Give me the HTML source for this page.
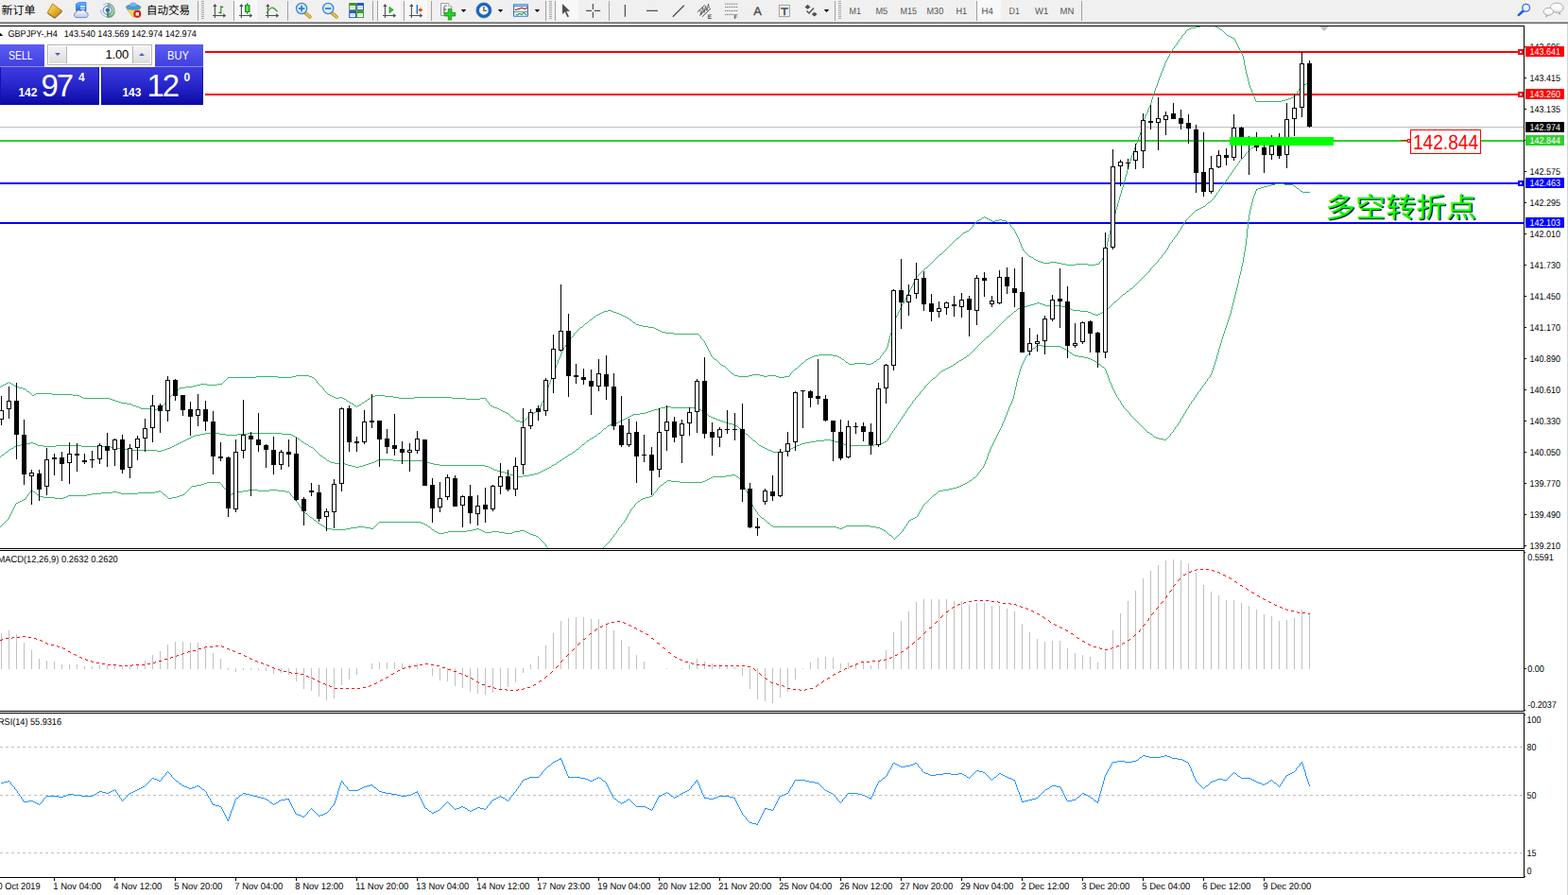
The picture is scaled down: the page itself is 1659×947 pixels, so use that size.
<!DOCTYPE html>
<html><head><meta charset="utf-8"><title>GBPJPY H4</title>
<style>
html,body{margin:0;padding:0;background:#fff;}
body{width:1659px;height:947px;overflow:hidden;position:relative;font-family:"Liberation Sans",sans-serif;}
svg text{font-family:"Liberation Sans",sans-serif;}
#tb{position:absolute;left:0;top:0;width:1659px;height:25px;background:linear-gradient(#f0f0f0 0,#f0f0f0 22px,#f4f4f4 22px,#f4f4f4 23px,#a0a0a0 23px,#a0a0a0 24px,#696969 24px,#696969 25px);}
#rb{position:absolute;left:1658px;top:25px;width:1px;height:922px;background:#d4d4d4;}
#ch{position:absolute;left:0;top:0;}
.tp{position:absolute;left:0;top:46px;width:217px;height:66px;background:#fff;}
.bs{position:absolute;top:1px;height:24px;color:#fff;background:linear-gradient(#5c5cf4,#4040e2);border-bottom:1px solid #8c8cf0;box-sizing:border-box;}
.bs span{position:absolute;top:4.5px;font-size:12px;line-height:14px;display:block;white-space:nowrap;transform-origin:0 0;}
.bs:nth-child(1) span{transform:scaleX(0.87);}
.bs:nth-child(2) span{transform:scaleX(0.93);}
.lot{position:absolute;left:50px;top:1px;width:109px;height:20px;border:1px solid #b4b4b4;background:#fff;}
.lot span{position:absolute;right:24px;top:1.6px;font-size:13px;color:#000;letter-spacing:-0.2px;}
.sp{position:absolute;top:1px;width:19px;height:18px;background:linear-gradient(#f4f4f4,#dcdcdc);border-right:1px solid #b4b4b4;box-sizing:border-box;}
.sp+.sp{border-right:0;border-left:1px solid #b4b4b4;}
.sp i{position:absolute;left:6px;top:7px;width:0;height:0;border-left:3px solid transparent;border-right:3px solid transparent;}
.dn{border-top:3px solid #4860b8;}
.up{border-bottom:3px solid #4860b8;}
.pr{position:absolute;top:25px;height:40px;background:linear-gradient(#3c3ce0,#2828cc 45%,#0a0aa6);color:#fff;box-shadow:inset 1px 0 0 #1414a8,inset -1px 0 0 #1414a8;}
.pr b{position:absolute;top:19.5px;font-size:12px;letter-spacing:-0.1px;}
.pr em{position:absolute;top:-0.5px;font-style:normal;font-size:33px;letter-spacing:-2.2px;line-height:40px;}
.pr sup{position:absolute;top:4px;font-size:12px;font-weight:bold;line-height:14px;}
</style></head><body>
<div id="tb"></div><div id="rb"></div>
<svg id="ch" width="1659" height="947" viewBox="0 0 1659 947" text-rendering="geometricPrecision"><defs><clipPath id="cm"><rect x="0" y="28" width="1612" height="552"/></clipPath><clipPath id="c2"><rect x="0" y="583" width="1612" height="169"/></clipPath><clipPath id="c3"><rect x="0" y="755" width="1612" height="173"/></clipPath></defs><g clip-path="url(#cm)" shape-rendering="crispEdges"><rect x="0" y="54" width="1612" height="2" fill="#f00"/><rect x="0" y="99" width="1612" height="2" fill="#f00"/><rect x="0" y="134" width="1612" height="1" fill="#c0c0c0"/><rect x="0" y="148" width="1612" height="2" fill="#32cd32"/><rect x="0" y="193" width="1612" height="2" fill="#00f"/><rect x="0" y="235" width="1612" height="2" fill="#00f"/><path d="M1276 24h3v1h-3zM1274 25h2v1h-2zM1279 25h2v1h-2zM1272 26h2v1h-2zM1281 26h3v1h-3zM1270 27h2v1h-2zM1284 27h2v1h-2zM1265 28h5v1h-5zM1286 28h2v1h-2zM1260 29h5v1h-5zM1288 29h2v1h-2zM1258 30h2v1h-2zM1290 30h1v1h-1zM1256 31h2v1h-2zM1291 31h2v1h-2zM1255 32h1v1h-1zM1293 32h1v1h-1zM1254 33h1v2h-1zM1294 33h1v1h-1zM1295 34h1v1h-1zM1253 35h1v1h-1zM1296 35h1v1h-1zM1252 36h1v1h-1zM1297 36h1v1h-1zM1251 37h1v1h-1zM1298 37h2v1h-2zM1250 38h1v2h-1zM1300 38h2v1h-2zM1302 39h2v1h-2zM1249 40h1v1h-1zM1304 40h2v1h-2zM1248 41h1v1h-1zM1306 41h1v2h-1zM1247 42h1v2h-1zM1307 43h1v2h-1zM1246 44h1v1h-1zM1245 45h1v2h-1zM1308 45h1v2h-1zM1244 47h1v1h-1zM1309 47h1v2h-1zM1243 48h1v1h-1zM1242 49h1v2h-1zM1310 49h1v2h-1zM1241 51h1v1h-1zM1311 51h1v2h-1zM1240 52h1v2h-1zM1312 53h1v2h-1zM1239 54h1v1h-1zM1238 55h1v2h-1zM1313 55h1v2h-1zM1237 57h1v2h-1zM1314 57h1v2h-1zM1236 59h1v2h-1zM1315 59h1v4h-1zM1235 61h1v2h-1zM1234 63h1v2h-1zM1316 63h1v6h-1zM1233 65h1v2h-1zM1232 67h1v3h-1zM1317 69h1v5h-1zM1231 70h1v2h-1zM1230 72h1v3h-1zM1318 74h1v4h-1zM1229 75h1v2h-1zM1228 77h1v3h-1zM1319 78h1v4h-1zM1227 80h1v2h-1zM1226 82h1v3h-1zM1320 82h1v4h-1zM1225 85h1v3h-1zM1321 86h1v4h-1zM1224 88h1v3h-1zM1382 88h4v1h-4zM1379 89h3v1h-3zM1322 90h1v3h-1zM1378 90h1v1h-1zM1223 91h1v2h-1zM1377 91h1v1h-1zM1376 92h1v1h-1zM1222 93h1v3h-1zM1323 93h1v2h-1zM1375 93h1v1h-1zM1374 94h1v2h-1zM1324 95h1v3h-1zM1221 96h1v3h-1zM1373 96h1v1h-1zM1372 97h1v2h-1zM1325 98h1v2h-1zM1220 99h1v3h-1zM1371 99h1v1h-1zM1326 100h1v2h-1zM1370 100h1v2h-1zM1219 102h1v3h-1zM1327 102h1v3h-1zM1368 102h2v1h-2zM1366 103h2v1h-2zM1363 104h3v1h-3zM1218 105h1v4h-1zM1328 105h1v2h-1zM1360 105h3v1h-3zM1356 106h4v1h-4zM1329 107h27v1h-27zM1217 109h1v3h-1zM1216 112h1v2h-1zM1215 114h1v2h-1zM1214 116h1v3h-1zM1213 119h1v2h-1zM1212 121h1v2h-1zM1211 123h1v3h-1zM1210 126h1v4h-1zM1209 130h1v3h-1zM1208 133h1v3h-1zM1207 136h1v4h-1zM1206 140h1v3h-1zM1205 143h1v2h-1zM1204 145h1v3h-1zM1203 148h1v3h-1zM1202 151h1v2h-1zM1201 153h1v3h-1zM1200 156h1v3h-1zM1199 159h1v3h-1zM1198 162h1v2h-1zM1197 164h1v3h-1zM1196 167h1v3h-1zM1195 170h1v3h-1zM1194 173h1v4h-1zM1193 177h1v3h-1zM1192 180h1v4h-1zM1191 184h1v3h-1zM1190 187h1v4h-1zM1189 191h1v3h-1zM1188 194h1v4h-1zM1187 198h1v3h-1zM1186 201h1v4h-1zM1185 205h1v3h-1zM1184 208h1v4h-1zM1183 212h1v3h-1zM1182 215h1v4h-1zM1181 219h1v3h-1zM1180 222h1v4h-1zM1179 226h1v3h-1zM1041 229h1v1h-1zM1178 229h1v4h-1zM1039 230h2v1h-2zM1042 230h2v1h-2zM1038 231h1v1h-1zM1044 231h2v1h-2zM1036 232h2v1h-2zM1046 232h2v1h-2zM1057 232h3v1h-3zM1034 233h2v1h-2zM1048 233h2v1h-2zM1053 233h4v1h-4zM1060 233h4v1h-4zM1177 233h1v4h-1zM1033 234h1v1h-1zM1050 234h3v1h-3zM1064 234h2v1h-2zM1032 235h1v1h-1zM1066 235h1v1h-1zM1031 236h1v1h-1zM1067 236h1v1h-1zM1030 237h1v1h-1zM1068 237h1v1h-1zM1176 237h1v3h-1zM1029 238h1v2h-1zM1069 238h1v2h-1zM1028 240h1v1h-1zM1070 240h1v1h-1zM1175 240h1v4h-1zM1027 241h1v1h-1zM1071 241h1v1h-1zM1026 242h1v1h-1zM1072 242h1v1h-1zM1025 243h1v1h-1zM1073 243h1v2h-1zM1023 244h2v1h-2zM1174 244h1v4h-1zM1021 245h2v1h-2zM1074 245h1v2h-1zM1019 246h2v1h-2zM1018 247h1v1h-1zM1075 247h1v2h-1zM1017 248h1v1h-1zM1173 248h1v4h-1zM1016 249h1v1h-1zM1076 249h1v2h-1zM1015 250h1v1h-1zM1014 251h1v1h-1zM1077 251h1v2h-1zM1012 252h2v1h-2zM1172 252h1v4h-1zM1011 253h1v1h-1zM1078 253h1v3h-1zM1010 254h1v1h-1zM1009 255h1v1h-1zM1008 256h1v1h-1zM1079 256h1v2h-1zM1171 256h1v5h-1zM1007 257h1v1h-1zM1006 258h1v1h-1zM1080 258h1v3h-1zM1005 259h1v1h-1zM1004 260h1v1h-1zM1003 261h1v1h-1zM1081 261h1v2h-1zM1170 261h1v4h-1zM1002 262h1v1h-1zM1001 263h1v1h-1zM1082 263h1v2h-1zM1000 264h1v1h-1zM999 265h1v1h-1zM1083 265h1v1h-1zM1169 265h1v4h-1zM998 266h1v1h-1zM1084 266h1v1h-1zM997 267h1v1h-1zM1085 267h1v1h-1zM996 268h1v1h-1zM1086 268h1v1h-1zM994 269h2v1h-2zM1087 269h1v1h-1zM1168 269h1v3h-1zM993 270h1v1h-1zM1088 270h1v1h-1zM992 271h1v1h-1zM1089 271h2v1h-2zM991 272h1v1h-1zM1091 272h2v1h-2zM1167 272h1v1h-1zM990 273h1v1h-1zM1093 273h1v1h-1zM1166 273h1v2h-1zM989 274h1v1h-1zM1094 274h2v1h-2zM988 275h1v1h-1zM1096 275h2v1h-2zM1165 275h1v1h-1zM987 276h1v1h-1zM1098 276h3v1h-3zM1164 276h1v1h-1zM986 277h1v1h-1zM1101 277h3v1h-3zM1111 277h7v1h-7zM1163 277h1v2h-1zM985 278h1v1h-1zM1104 278h7v1h-7zM1118 278h5v1h-5zM984 279h1v1h-1zM1123 279h5v1h-5zM1138 279h13v1h-13zM1159 279h4v1h-4zM983 280h1v1h-1zM1128 280h10v1h-10zM1151 280h8v1h-8zM982 281h1v1h-1zM981 282h1v1h-1zM979 283h2v1h-2zM978 284h1v1h-1zM977 285h1v1h-1zM976 286h1v1h-1zM975 287h1v1h-1zM974 288h1v1h-1zM973 289h1v1h-1zM972 290h1v1h-1zM971 291h1v1h-1zM970 292h1v1h-1zM969 293h1v2h-1zM968 295h1v2h-1zM967 297h1v2h-1zM966 299h1v2h-1zM965 301h1v2h-1zM964 303h1v2h-1zM963 305h1v2h-1zM962 307h1v2h-1zM961 309h1v2h-1zM960 311h1v2h-1zM959 313h1v2h-1zM958 315h1v2h-1zM957 317h1v2h-1zM956 319h1v2h-1zM955 321h1v1h-1zM954 322h1v2h-1zM953 324h1v2h-1zM952 326h1v2h-1zM643 328h4v1h-4zM951 328h1v2h-1zM639 329h4v1h-4zM647 329h2v1h-2zM637 330h2v1h-2zM649 330h3v1h-3zM950 330h1v2h-1zM635 331h2v1h-2zM652 331h3v1h-3zM633 332h2v1h-2zM655 332h2v1h-2zM949 332h1v2h-1zM631 333h2v1h-2zM657 333h2v1h-2zM630 334h1v1h-1zM659 334h2v1h-2zM948 334h1v2h-1zM628 335h2v1h-2zM661 335h2v1h-2zM627 336h1v1h-1zM663 336h2v1h-2zM947 336h1v3h-1zM626 337h1v1h-1zM665 337h1v1h-1zM624 338h2v1h-2zM666 338h2v1h-2zM623 339h1v1h-1zM668 339h1v1h-1zM946 339h1v3h-1zM622 340h1v1h-1zM669 340h1v1h-1zM621 341h1v1h-1zM670 341h2v1h-2zM619 342h2v1h-2zM672 342h1v1h-1zM945 342h1v4h-1zM618 343h1v1h-1zM673 343h3v1h-3zM617 344h1v1h-1zM676 344h4v1h-4zM616 345h1v1h-1zM680 345h6v1h-6zM614 346h2v1h-2zM686 346h6v1h-6zM944 346h1v3h-1zM613 347h1v1h-1zM692 347h2v1h-2zM612 348h1v1h-1zM694 348h2v1h-2zM611 349h1v1h-1zM696 349h2v1h-2zM943 349h1v3h-1zM610 350h1v1h-1zM698 350h2v1h-2zM609 351h1v1h-1zM700 351h4v1h-4zM608 352h1v1h-1zM704 352h9v1h-9zM942 352h1v3h-1zM607 353h1v2h-1zM713 353h26v1h-26zM739 354h1v1h-1zM606 355h1v1h-1zM740 355h1v1h-1zM941 355h1v4h-1zM605 356h1v1h-1zM741 356h1v2h-1zM604 357h1v1h-1zM603 358h1v1h-1zM742 358h1v1h-1zM602 359h1v2h-1zM743 359h1v1h-1zM940 359h1v4h-1zM744 360h1v1h-1zM601 361h1v1h-1zM745 361h1v2h-1zM600 362h1v2h-1zM746 363h1v2h-1zM939 363h1v4h-1zM599 364h1v1h-1zM598 365h1v2h-1zM747 365h1v2h-1zM597 367h1v1h-1zM748 367h1v2h-1zM938 367h1v2h-1zM596 368h1v2h-1zM749 369h1v2h-1zM937 369h1v2h-1zM595 370h1v2h-1zM750 371h1v2h-1zM936 371h1v1h-1zM594 372h1v2h-1zM935 372h1v1h-1zM751 373h1v2h-1zM934 373h1v2h-1zM593 374h1v3h-1zM752 375h1v2h-1zM866 375h15v1h-15zM933 375h1v1h-1zM861 376h5v1h-5zM881 376h5v1h-5zM932 376h1v1h-1zM592 377h1v2h-1zM753 377h1v1h-1zM859 377h2v1h-2zM886 377h2v1h-2zM931 377h1v2h-1zM754 378h1v1h-1zM857 378h2v1h-2zM888 378h2v1h-2zM591 379h1v2h-1zM755 379h1v1h-1zM855 379h2v1h-2zM890 379h1v1h-1zM930 379h1v1h-1zM756 380h2v1h-2zM853 380h2v1h-2zM891 380h2v1h-2zM928 380h2v1h-2zM590 381h1v3h-1zM758 381h1v1h-1zM852 381h1v1h-1zM893 381h1v1h-1zM927 381h1v1h-1zM759 382h1v1h-1zM851 382h1v1h-1zM894 382h1v1h-1zM925 382h2v1h-2zM760 383h1v1h-1zM850 383h1v1h-1zM895 383h2v1h-2zM924 383h1v1h-1zM589 384h1v2h-1zM761 384h1v1h-1zM848 384h2v1h-2zM897 384h1v1h-1zM904 384h12v1h-12zM922 384h2v1h-2zM762 385h1v1h-1zM847 385h1v1h-1zM898 385h6v1h-6zM916 385h6v1h-6zM588 386h1v3h-1zM763 386h2v1h-2zM846 386h1v1h-1zM765 387h2v1h-2zM845 387h1v1h-1zM767 388h1v1h-1zM844 388h1v1h-1zM587 389h1v2h-1zM768 389h1v1h-1zM843 389h1v1h-1zM769 390h1v1h-1zM841 390h2v1h-2zM586 391h1v3h-1zM770 391h1v1h-1zM840 391h1v1h-1zM771 392h1v1h-1zM839 392h1v1h-1zM772 393h1v1h-1zM838 393h1v1h-1zM585 394h1v3h-1zM773 394h1v1h-1zM837 394h1v1h-1zM774 395h2v1h-2zM836 395h1v2h-1zM776 396h1v1h-1zM796 396h8v1h-8zM313 397h14v1h-14zM584 397h1v2h-1zM777 397h4v1h-4zM792 397h4v1h-4zM804 397h4v1h-4zM812 397h9v1h-9zM835 397h1v1h-1zM271 398h23v1h-23zM309 398h4v1h-4zM327 398h3v1h-3zM781 398h11v1h-11zM808 398h4v1h-4zM821 398h3v1h-3zM830 398h5v1h-5zM241 399h30v1h-30zM294 399h15v1h-15zM330 399h2v1h-2zM583 399h1v3h-1zM824 399h6v1h-6zM240 400h1v1h-1zM332 400h1v1h-1zM239 401h1v1h-1zM333 401h1v1h-1zM238 402h1v1h-1zM334 402h1v1h-1zM582 402h1v3h-1zM237 403h1v1h-1zM335 403h1v2h-1zM9 404h1v1h-1zM236 404h1v1h-1zM7 405h2v1h-2zM10 405h2v1h-2zM235 405h1v1h-1zM336 405h1v1h-1zM581 405h1v2h-1zM5 406h2v1h-2zM12 406h2v1h-2zM212 406h7v1h-7zM230 406h5v1h-5zM337 406h1v1h-1zM3 407h2v1h-2zM14 407h1v1h-1zM208 407h4v1h-4zM219 407h11v1h-11zM338 407h1v1h-1zM580 407h1v3h-1zM1 408h2v1h-2zM15 408h2v1h-2zM204 408h4v1h-4zM339 408h1v1h-1zM0 409h1v1h-1zM17 409h3v1h-3zM196 409h8v1h-8zM340 409h1v1h-1zM20 410h4v1h-4zM190 410h6v1h-6zM341 410h1v1h-1zM579 410h1v3h-1zM24 411h3v1h-3zM189 411h1v1h-1zM342 411h1v2h-1zM27 412h1v1h-1zM188 412h1v1h-1zM28 413h1v1h-1zM187 413h1v1h-1zM343 413h1v1h-1zM578 413h1v3h-1zM29 414h2v1h-2zM185 414h2v1h-2zM344 414h1v1h-1zM31 415h1v1h-1zM184 415h1v1h-1zM345 415h1v1h-1zM32 416h1v1h-1zM38 416h17v1h-17zM183 416h1v1h-1zM346 416h1v1h-1zM577 416h1v2h-1zM33 417h1v1h-1zM36 417h2v1h-2zM55 417h22v1h-22zM182 417h1v1h-1zM347 417h2v1h-2zM34 418h2v1h-2zM77 418h7v1h-7zM181 418h1v1h-1zM349 418h2v1h-2zM397 418h10v1h-10zM576 418h1v3h-1zM84 419h2v1h-2zM180 419h1v1h-1zM351 419h2v1h-2zM394 419h3v1h-3zM407 419h9v1h-9zM86 420h2v1h-2zM179 420h1v2h-1zM353 420h2v1h-2zM359 420h3v1h-3zM392 420h2v1h-2zM416 420h6v1h-6zM438 420h40v1h-40zM88 421h28v1h-28zM355 421h4v1h-4zM362 421h2v1h-2zM391 421h1v1h-1zM422 421h16v1h-16zM478 421h15v1h-15zM508 421h6v1h-6zM575 421h1v3h-1zM116 422h3v1h-3zM178 422h1v1h-1zM364 422h2v1h-2zM389 422h2v1h-2zM493 422h15v1h-15zM514 422h1v2h-1zM119 423h3v1h-3zM177 423h1v1h-1zM366 423h1v1h-1zM388 423h1v1h-1zM122 424h3v1h-3zM176 424h1v1h-1zM367 424h2v1h-2zM386 424h2v1h-2zM515 424h1v1h-1zM574 424h1v2h-1zM125 425h3v1h-3zM175 425h1v1h-1zM369 425h1v1h-1zM385 425h1v1h-1zM516 425h1v1h-1zM128 426h6v1h-6zM174 426h1v2h-1zM370 426h2v1h-2zM383 426h2v1h-2zM517 426h1v2h-1zM573 426h1v2h-1zM134 427h5v1h-5zM372 427h2v1h-2zM382 427h1v1h-1zM139 428h2v1h-2zM173 428h1v1h-1zM374 428h1v1h-1zM380 428h2v1h-2zM518 428h1v1h-1zM572 428h1v2h-1zM141 429h3v1h-3zM172 429h1v1h-1zM375 429h2v1h-2zM378 429h2v1h-2zM519 429h2v1h-2zM144 430h3v1h-3zM170 430h2v1h-2zM377 430h1v1h-1zM521 430h2v1h-2zM571 430h1v2h-1zM147 431h2v1h-2zM168 431h2v1h-2zM523 431h3v1h-3zM149 432h13v1h-13zM166 432h2v1h-2zM526 432h2v1h-2zM570 432h1v2h-1zM162 433h4v1h-4zM528 433h2v1h-2zM530 434h2v1h-2zM569 434h1v1h-1zM532 435h2v1h-2zM567 435h2v1h-2zM534 436h2v1h-2zM565 436h2v1h-2zM536 437h2v1h-2zM563 437h2v1h-2zM538 438h1v1h-1zM561 438h2v1h-2zM539 439h1v1h-1zM560 439h1v1h-1zM540 440h1v1h-1zM559 440h1v1h-1zM541 441h2v1h-2zM558 441h1v1h-1zM543 442h1v1h-1zM557 442h1v1h-1zM544 443h1v1h-1zM556 443h1v1h-1zM545 444h1v1h-1zM555 444h1v1h-1zM546 445h4v1h-4zM554 445h1v1h-1zM550 446h4v1h-4z" fill="#3CB371"/><path d="M1381 146h5v1h-5zM1371 147h10v1h-10zM1361 148h10v1h-10zM1351 149h10v1h-10zM1343 150h8v1h-8zM1339 151h4v1h-4zM1334 152h5v1h-5zM1330 153h4v1h-4zM1327 154h3v1h-3zM1326 155h1v1h-1zM1324 156h2v1h-2zM1323 157h1v1h-1zM1322 158h1v1h-1zM1321 159h1v1h-1zM1320 160h1v1h-1zM1319 161h1v1h-1zM1318 162h1v1h-1zM1317 163h1v2h-1zM1316 165h1v1h-1zM1315 166h1v1h-1zM1314 167h1v1h-1zM1313 168h1v1h-1zM1312 169h1v1h-1zM1311 170h1v2h-1zM1310 172h1v1h-1zM1309 173h1v2h-1zM1308 175h1v1h-1zM1307 176h1v1h-1zM1306 177h1v2h-1zM1305 179h1v1h-1zM1304 180h1v2h-1zM1303 182h1v1h-1zM1302 183h1v2h-1zM1301 185h1v1h-1zM1300 186h1v1h-1zM1299 187h1v2h-1zM1298 189h1v1h-1zM1297 190h1v2h-1zM1296 192h1v1h-1zM1295 193h1v1h-1zM1294 194h1v2h-1zM1293 196h1v1h-1zM1292 197h1v2h-1zM1291 199h1v1h-1zM1290 200h1v2h-1zM1289 202h1v1h-1zM1288 203h1v1h-1zM1287 204h1v2h-1zM1286 206h1v1h-1zM1285 207h1v2h-1zM1284 209h1v1h-1zM1283 210h1v1h-1zM1282 211h1v1h-1zM1281 212h1v1h-1zM1280 213h1v1h-1zM1278 214h2v1h-2zM1277 215h1v1h-1zM1276 216h1v1h-1zM1275 217h1v1h-1zM1273 218h2v1h-2zM1271 219h2v1h-2zM1269 220h2v1h-2zM1267 221h2v1h-2zM1265 222h2v1h-2zM1264 223h1v1h-1zM1263 224h1v1h-1zM1262 225h1v1h-1zM1261 226h1v1h-1zM1260 227h1v1h-1zM1259 228h1v1h-1zM1258 229h1v1h-1zM1257 230h1v1h-1zM1256 231h1v1h-1zM1255 232h1v1h-1zM1254 233h1v2h-1zM1253 235h1v1h-1zM1252 236h1v2h-1zM1251 238h1v1h-1zM1250 239h1v2h-1zM1249 241h1v2h-1zM1248 243h1v1h-1zM1247 244h1v2h-1zM1246 246h1v1h-1zM1245 247h1v2h-1zM1244 249h1v1h-1zM1243 250h1v1h-1zM1242 251h1v2h-1zM1241 253h1v1h-1zM1240 254h1v2h-1zM1239 256h1v1h-1zM1238 257h1v1h-1zM1237 258h1v2h-1zM1236 260h1v2h-1zM1235 262h1v2h-1zM1234 264h1v1h-1zM1233 265h1v2h-1zM1232 267h1v1h-1zM1231 268h1v1h-1zM1230 269h1v1h-1zM1229 270h1v2h-1zM1228 272h1v1h-1zM1227 273h1v1h-1zM1226 274h1v1h-1zM1225 275h1v2h-1zM1224 277h1v1h-1zM1223 278h1v1h-1zM1222 279h1v1h-1zM1221 280h1v1h-1zM1220 281h1v1h-1zM1219 282h1v1h-1zM1218 283h1v1h-1zM1217 284h1v2h-1zM1216 286h1v1h-1zM1215 287h1v1h-1zM1214 288h1v1h-1zM1213 289h1v1h-1zM1212 290h1v1h-1zM1211 291h1v1h-1zM1210 292h1v1h-1zM1209 293h1v1h-1zM1208 294h1v1h-1zM1207 295h1v1h-1zM1206 296h1v1h-1zM1205 297h1v1h-1zM1204 298h1v1h-1zM1203 299h1v1h-1zM1202 300h1v1h-1zM1201 301h1v1h-1zM1200 302h1v1h-1zM1199 303h1v1h-1zM1198 304h1v1h-1zM1196 305h2v1h-2zM1195 306h1v1h-1zM1194 307h1v1h-1zM1192 308h2v1h-2zM1191 309h1v1h-1zM1190 310h1v1h-1zM1188 311h2v1h-2zM1187 312h1v1h-1zM1186 313h1v1h-1zM1185 314h1v1h-1zM1184 315h1v1h-1zM1183 316h1v1h-1zM1182 317h1v1h-1zM1181 318h1v1h-1zM1179 319h2v1h-2zM1097 320h3v1h-3zM1178 320h1v1h-1zM1094 321h3v1h-3zM1100 321h3v1h-3zM1177 321h1v1h-1zM1090 322h4v1h-4zM1103 322h3v1h-3zM1176 322h1v1h-1zM1087 323h3v1h-3zM1106 323h17v1h-17zM1175 323h1v1h-1zM1083 324h4v1h-4zM1123 324h5v1h-5zM1174 324h1v1h-1zM1079 325h4v1h-4zM1128 325h2v1h-2zM1173 325h1v1h-1zM1077 326h2v1h-2zM1130 326h3v1h-3zM1172 326h1v1h-1zM1076 327h1v1h-1zM1133 327h2v1h-2zM1170 327h2v1h-2zM1075 328h1v1h-1zM1135 328h8v1h-8zM1169 328h1v1h-1zM1073 329h2v1h-2zM1143 329h8v1h-8zM1168 329h1v1h-1zM1072 330h1v1h-1zM1151 330h3v1h-3zM1166 330h2v1h-2zM1071 331h1v1h-1zM1154 331h2v1h-2zM1164 331h2v1h-2zM1070 332h1v1h-1zM1156 332h3v1h-3zM1162 332h2v1h-2zM1069 333h1v1h-1zM1159 333h3v1h-3zM1067 334h2v1h-2zM1066 335h1v1h-1zM1065 336h1v1h-1zM1064 337h1v1h-1zM1063 338h1v1h-1zM1062 339h1v1h-1zM1061 340h1v1h-1zM1060 341h1v1h-1zM1059 342h1v1h-1zM1058 343h1v1h-1zM1057 344h1v1h-1zM1056 345h1v1h-1zM1055 346h1v1h-1zM1054 347h1v1h-1zM1053 348h1v1h-1zM1052 349h1v1h-1zM1051 350h1v1h-1zM1050 351h1v1h-1zM1049 352h1v1h-1zM1048 353h1v1h-1zM1047 354h1v1h-1zM1046 355h1v1h-1zM1044 356h2v1h-2zM1043 357h1v1h-1zM1042 358h1v1h-1zM1041 359h1v1h-1zM1040 360h1v1h-1zM1039 361h1v1h-1zM1038 362h1v1h-1zM1037 363h1v1h-1zM1036 364h1v1h-1zM1035 365h1v1h-1zM1034 366h1v1h-1zM1033 367h1v1h-1zM1032 368h1v1h-1zM1031 369h1v1h-1zM1030 370h1v1h-1zM1029 371h1v1h-1zM1028 372h1v1h-1zM1027 373h1v1h-1zM1026 374h1v1h-1zM1025 375h1v1h-1zM1023 376h2v1h-2zM1022 377h1v1h-1zM1020 378h2v1h-2zM1019 379h1v1h-1zM1017 380h2v1h-2zM1015 381h2v1h-2zM1014 382h1v1h-1zM1012 383h2v1h-2zM1011 384h1v1h-1zM1009 385h2v1h-2zM1008 386h1v1h-1zM1006 387h2v1h-2zM1004 388h2v1h-2zM1002 389h2v1h-2zM1000 390h2v1h-2zM998 391h2v1h-2zM996 392h2v1h-2zM995 393h1v1h-1zM994 394h1v1h-1zM993 395h1v1h-1zM992 396h1v1h-1zM991 397h1v1h-1zM990 398h1v1h-1zM989 399h1v1h-1zM987 400h2v1h-2zM986 401h1v1h-1zM985 402h1v1h-1zM984 403h1v1h-1zM983 404h1v1h-1zM982 405h1v1h-1zM981 406h1v1h-1zM980 407h1v1h-1zM979 408h1v1h-1zM978 409h1v2h-1zM977 411h1v1h-1zM976 412h1v1h-1zM975 413h1v1h-1zM974 414h1v1h-1zM973 415h1v2h-1zM972 417h1v1h-1zM971 418h1v1h-1zM970 419h1v1h-1zM969 420h1v1h-1zM968 421h1v2h-1zM967 423h1v1h-1zM966 424h1v1h-1zM965 425h1v2h-1zM964 427h1v1h-1zM963 428h1v2h-1zM704 430h6v1h-6zM962 430h1v1h-1zM699 431h5v1h-5zM710 431h27v1h-27zM961 431h1v1h-1zM696 432h3v1h-3zM737 432h3v1h-3zM960 432h1v2h-1zM692 433h4v1h-4zM740 433h2v1h-2zM689 434h3v1h-3zM742 434h2v1h-2zM959 434h1v1h-1zM686 435h3v1h-3zM744 435h1v1h-1zM958 435h1v2h-1zM683 436h3v1h-3zM745 436h1v1h-1zM677 437h6v1h-6zM746 437h2v1h-2zM957 437h1v1h-1zM670 438h7v1h-7zM748 438h1v1h-1zM956 438h1v2h-1zM668 439h2v1h-2zM749 439h1v1h-1zM666 440h2v1h-2zM750 440h2v1h-2zM955 440h1v1h-1zM664 441h2v1h-2zM752 441h2v1h-2zM954 441h1v2h-1zM662 442h2v1h-2zM754 442h3v1h-3zM660 443h2v1h-2zM757 443h2v1h-2zM953 443h1v1h-1zM658 444h2v1h-2zM759 444h3v1h-3zM952 444h1v2h-1zM656 445h2v1h-2zM762 445h3v1h-3zM654 446h2v1h-2zM765 446h3v1h-3zM951 446h1v1h-1zM651 447h3v1h-3zM768 447h3v1h-3zM950 447h1v2h-1zM648 448h3v1h-3zM771 448h4v1h-4zM645 449h3v1h-3zM775 449h3v1h-3zM949 449h1v1h-1zM643 450h2v1h-2zM778 450h2v1h-2zM948 450h1v2h-1zM642 451h1v1h-1zM780 451h1v1h-1zM641 452h1v1h-1zM781 452h1v1h-1zM947 452h1v1h-1zM639 453h2v1h-2zM782 453h2v1h-2zM946 453h1v2h-1zM638 454h1v1h-1zM784 454h1v1h-1zM637 455h1v1h-1zM785 455h1v1h-1zM945 455h1v1h-1zM636 456h1v1h-1zM786 456h1v1h-1zM944 456h1v2h-1zM223 457h5v1h-5zM635 457h1v1h-1zM787 457h1v1h-1zM217 458h6v1h-6zM228 458h4v1h-4zM262 458h36v1h-36zM633 458h2v1h-2zM788 458h1v1h-1zM943 458h1v1h-1zM212 459h5v1h-5zM232 459h7v1h-7zM251 459h11v1h-11zM298 459h10v1h-10zM632 459h1v1h-1zM789 459h2v1h-2zM942 459h1v2h-1zM207 460h5v1h-5zM239 460h12v1h-12zM308 460h2v1h-2zM631 460h1v1h-1zM791 460h1v1h-1zM204 461h3v1h-3zM310 461h2v1h-2zM629 461h2v1h-2zM792 461h1v1h-1zM941 461h1v2h-1zM202 462h2v1h-2zM312 462h2v1h-2zM628 462h1v1h-1zM793 462h1v1h-1zM200 463h2v1h-2zM314 463h1v1h-1zM626 463h2v1h-2zM794 463h1v1h-1zM940 463h1v1h-1zM198 464h2v1h-2zM315 464h2v1h-2zM624 464h2v1h-2zM795 464h1v1h-1zM939 464h1v2h-1zM196 465h2v1h-2zM317 465h1v1h-1zM623 465h1v1h-1zM796 465h1v1h-1zM872 465h7v1h-7zM194 466h2v1h-2zM318 466h1v1h-1zM621 466h2v1h-2zM797 466h2v1h-2zM863 466h9v1h-9zM879 466h4v1h-4zM938 466h1v1h-1zM192 467h2v1h-2zM319 467h2v1h-2zM620 467h1v1h-1zM799 467h1v1h-1zM857 467h6v1h-6zM883 467h4v1h-4zM936 467h2v1h-2zM32 468h3v1h-3zM190 468h2v1h-2zM321 468h1v1h-1zM619 468h1v1h-1zM800 468h1v1h-1zM852 468h5v1h-5zM887 468h3v1h-3zM934 468h2v1h-2zM28 469h4v1h-4zM35 469h3v1h-3zM188 469h2v1h-2zM322 469h2v1h-2zM618 469h1v1h-1zM801 469h1v1h-1zM848 469h4v1h-4zM890 469h3v1h-3zM932 469h2v1h-2zM22 470h6v1h-6zM38 470h2v1h-2zM186 470h2v1h-2zM324 470h2v1h-2zM616 470h2v1h-2zM802 470h1v1h-1zM846 470h2v1h-2zM893 470h6v1h-6zM925 470h7v1h-7zM17 471h5v1h-5zM40 471h6v1h-6zM59 471h27v1h-27zM184 471h2v1h-2zM326 471h1v1h-1zM615 471h1v1h-1zM803 471h2v1h-2zM843 471h3v1h-3zM899 471h26v1h-26zM15 472h2v1h-2zM46 472h13v1h-13zM86 472h31v1h-31zM182 472h2v1h-2zM327 472h2v1h-2zM614 472h1v1h-1zM805 472h2v1h-2zM841 472h2v1h-2zM14 473h1v1h-1zM117 473h5v1h-5zM180 473h2v1h-2zM329 473h2v1h-2zM613 473h1v1h-1zM807 473h2v1h-2zM839 473h2v1h-2zM12 474h2v1h-2zM122 474h5v1h-5zM177 474h3v1h-3zM331 474h1v1h-1zM612 474h1v1h-1zM809 474h2v1h-2zM837 474h2v1h-2zM10 475h2v1h-2zM127 475h10v1h-10zM174 475h3v1h-3zM332 475h1v1h-1zM610 475h2v1h-2zM811 475h2v1h-2zM835 475h2v1h-2zM9 476h1v1h-1zM137 476h29v1h-29zM171 476h3v1h-3zM333 476h1v1h-1zM609 476h1v1h-1zM813 476h3v1h-3zM833 476h2v1h-2zM8 477h1v1h-1zM166 477h5v1h-5zM334 477h1v1h-1zM608 477h1v1h-1zM816 477h2v1h-2zM829 477h4v1h-4zM6 478h2v1h-2zM335 478h1v1h-1zM606 478h2v1h-2zM818 478h11v1h-11zM5 479h1v1h-1zM336 479h1v1h-1zM605 479h1v1h-1zM4 480h1v1h-1zM337 480h1v1h-1zM603 480h2v1h-2zM2 481h2v1h-2zM338 481h1v1h-1zM601 481h2v1h-2zM1 482h1v1h-1zM339 482h2v1h-2zM600 482h1v1h-1zM0 483h1v1h-1zM341 483h1v1h-1zM598 483h2v1h-2zM342 484h2v1h-2zM597 484h1v1h-1zM344 485h1v1h-1zM595 485h2v1h-2zM345 486h1v1h-1zM400 486h16v1h-16zM594 486h1v1h-1zM346 487h2v1h-2zM398 487h2v1h-2zM416 487h31v1h-31zM592 487h2v1h-2zM348 488h2v1h-2zM396 488h2v1h-2zM447 488h4v1h-4zM591 488h1v1h-1zM350 489h4v1h-4zM393 489h3v1h-3zM451 489h4v1h-4zM589 489h2v1h-2zM354 490h11v1h-11zM390 490h3v1h-3zM455 490h4v1h-4zM588 490h1v1h-1zM365 491h3v1h-3zM387 491h3v1h-3zM459 491h6v1h-6zM586 491h2v1h-2zM368 492h4v1h-4zM384 492h3v1h-3zM465 492h48v1h-48zM584 492h2v1h-2zM372 493h4v1h-4zM380 493h4v1h-4zM513 493h4v1h-4zM583 493h1v1h-1zM376 494h4v1h-4zM517 494h2v1h-2zM581 494h2v1h-2zM519 495h2v1h-2zM579 495h2v1h-2zM521 496h2v1h-2zM577 496h2v1h-2zM523 497h3v1h-3zM575 497h2v1h-2zM526 498h4v1h-4zM573 498h2v1h-2zM530 499h4v1h-4zM571 499h2v1h-2zM534 500h3v1h-3zM569 500h2v1h-2zM537 501h2v1h-2zM565 501h4v1h-4zM539 502h4v1h-4zM560 502h5v1h-5zM543 503h4v1h-4zM553 503h7v1h-7zM547 504h6v1h-6z" fill="#3CB371"/><path d="M1349 194h10v1h-10zM1345 195h4v1h-4zM1359 195h9v1h-9zM1341 196h4v1h-4zM1368 196h2v1h-2zM1337 197h4v1h-4zM1370 197h1v1h-1zM1334 198h3v1h-3zM1371 198h1v1h-1zM1331 199h3v1h-3zM1372 199h2v1h-2zM1329 200h2v1h-2zM1374 200h1v1h-1zM1329 201h1v1h-1zM1375 201h1v1h-1zM1328 202h1v3h-1zM1376 202h2v1h-2zM1378 203h8v1h-8zM1327 205h1v2h-1zM1326 207h1v3h-1zM1325 210h1v4h-1zM1324 214h1v4h-1zM1323 218h1v4h-1zM1322 222h1v5h-1zM1321 227h1v6h-1zM1320 233h1v9h-1zM1319 242h1v10h-1zM1318 252h1v8h-1zM1317 260h1v6h-1zM1316 266h1v6h-1zM1315 272h1v6h-1zM1314 278h1v4h-1zM1313 282h1v5h-1zM1312 287h1v4h-1zM1311 291h1v4h-1zM1310 295h1v5h-1zM1309 300h1v4h-1zM1308 304h1v4h-1zM1307 308h1v4h-1zM1306 312h1v4h-1zM1305 316h1v4h-1zM1304 320h1v4h-1zM1303 324h1v4h-1zM1302 328h1v4h-1zM1301 332h1v3h-1zM1300 335h1v3h-1zM1299 338h1v3h-1zM1298 341h1v3h-1zM1297 344h1v3h-1zM1296 347h1v3h-1zM1295 350h1v3h-1zM1294 353h1v3h-1zM1293 356h1v3h-1zM1292 359h1v4h-1zM1291 363h1v3h-1zM1098 365h5v1h-5zM1096 366h2v1h-2zM1103 366h19v1h-19zM1290 366h1v3h-1zM1095 367h1v1h-1zM1122 367h2v1h-2zM1093 368h2v1h-2zM1124 368h2v1h-2zM1092 369h1v1h-1zM1126 369h2v1h-2zM1289 369h1v4h-1zM1091 370h1v1h-1zM1128 370h1v1h-1zM1090 371h1v1h-1zM1129 371h2v1h-2zM1089 372h1v2h-1zM1131 372h1v1h-1zM1132 373h2v1h-2zM1288 373h1v3h-1zM1088 374h1v1h-1zM1134 374h1v1h-1zM1087 375h1v1h-1zM1135 375h2v1h-2zM1086 376h1v1h-1zM1137 376h4v1h-4zM1287 376h1v4h-1zM1085 377h1v2h-1zM1141 377h6v1h-6zM1147 378h4v1h-4zM1084 379h1v2h-1zM1151 379h3v1h-3zM1154 380h2v1h-2zM1286 380h1v3h-1zM1083 381h1v2h-1zM1156 381h2v1h-2zM1158 382h2v1h-2zM1082 383h1v2h-1zM1160 383h1v1h-1zM1285 383h1v3h-1zM1161 384h1v1h-1zM1081 385h1v2h-1zM1162 385h2v1h-2zM1164 386h1v1h-1zM1284 386h1v3h-1zM1080 387h1v3h-1zM1165 387h1v1h-1zM1166 388h2v1h-2zM1168 389h1v1h-1zM1283 389h1v3h-1zM1079 390h1v3h-1zM1169 390h1v2h-1zM1170 392h1v3h-1zM1282 392h1v3h-1zM1078 393h1v4h-1zM1171 395h1v2h-1zM1281 395h1v2h-1zM1077 397h1v3h-1zM1172 397h1v3h-1zM1280 397h1v2h-1zM1279 399h1v1h-1zM1076 400h1v4h-1zM1173 400h1v3h-1zM1278 400h1v1h-1zM1277 401h1v2h-1zM1174 403h1v2h-1zM1276 403h1v1h-1zM1075 404h1v5h-1zM1275 404h1v2h-1zM1175 405h1v2h-1zM1274 406h1v1h-1zM1176 407h1v3h-1zM1273 407h1v1h-1zM1272 408h1v2h-1zM1074 409h1v4h-1zM1177 410h1v2h-1zM1271 410h1v1h-1zM1270 411h1v2h-1zM1178 412h1v2h-1zM1073 413h1v5h-1zM1269 413h1v1h-1zM1179 414h1v2h-1zM1268 414h1v1h-1zM1267 415h1v2h-1zM1180 416h1v2h-1zM1266 417h1v1h-1zM1072 418h1v4h-1zM1181 418h1v2h-1zM1265 418h1v2h-1zM1182 420h1v1h-1zM1264 420h1v1h-1zM1183 421h1v2h-1zM1263 421h1v2h-1zM1071 422h1v2h-1zM1184 423h1v1h-1zM1262 423h1v1h-1zM1070 424h1v3h-1zM1185 424h1v2h-1zM1261 424h1v1h-1zM1260 425h1v2h-1zM1186 426h1v2h-1zM1069 427h1v2h-1zM1259 427h1v1h-1zM1187 428h1v1h-1zM1258 428h1v2h-1zM1068 429h1v2h-1zM1188 429h1v2h-1zM1257 430h1v2h-1zM1067 431h1v3h-1zM1189 431h1v1h-1zM1190 432h1v1h-1zM1256 432h1v1h-1zM1191 433h1v1h-1zM1255 433h1v2h-1zM1066 434h1v2h-1zM1192 434h1v1h-1zM1193 435h1v1h-1zM1254 435h1v2h-1zM1065 436h1v3h-1zM1194 436h1v1h-1zM1195 437h1v2h-1zM1253 437h1v1h-1zM1252 438h1v2h-1zM1064 439h1v2h-1zM1196 439h1v1h-1zM1197 440h1v1h-1zM1251 440h1v2h-1zM1063 441h1v3h-1zM1198 441h1v1h-1zM1199 442h1v1h-1zM1250 442h1v1h-1zM1200 443h1v1h-1zM1249 443h1v2h-1zM1062 444h1v2h-1zM1201 444h1v1h-1zM1202 445h1v1h-1zM1248 445h1v2h-1zM1061 446h1v2h-1zM1203 446h1v1h-1zM1204 447h1v1h-1zM1247 447h1v1h-1zM1060 448h1v3h-1zM1205 448h1v1h-1zM1246 448h1v2h-1zM1206 449h1v1h-1zM1207 450h1v1h-1zM1245 450h1v1h-1zM1059 451h1v2h-1zM1208 451h1v1h-1zM1244 451h1v1h-1zM1209 452h1v1h-1zM1243 452h1v2h-1zM1058 453h1v2h-1zM1210 453h1v1h-1zM1211 454h1v1h-1zM1242 454h1v1h-1zM1057 455h1v2h-1zM1212 455h1v1h-1zM1241 455h1v2h-1zM1213 456h1v1h-1zM1056 457h1v2h-1zM1214 457h2v1h-2zM1240 457h1v1h-1zM1216 458h1v1h-1zM1239 458h1v1h-1zM1055 459h1v2h-1zM1217 459h2v1h-2zM1238 459h1v2h-1zM1219 460h1v1h-1zM1054 461h1v2h-1zM1220 461h1v1h-1zM1237 461h1v1h-1zM1221 462h2v1h-2zM1236 462h1v1h-1zM1053 463h1v2h-1zM1223 463h3v1h-3zM1235 463h1v1h-1zM1226 464h5v1h-5zM1234 464h1v1h-1zM1052 465h1v2h-1zM1231 465h3v1h-3zM1051 467h1v2h-1zM1050 469h1v2h-1zM1049 471h1v2h-1zM1048 473h1v2h-1zM1047 475h1v3h-1zM1046 478h1v2h-1zM1045 480h1v3h-1zM1044 483h1v3h-1zM1043 486h1v2h-1zM1042 488h1v3h-1zM1041 491h1v2h-1zM1040 493h1v2h-1zM1039 495h1v1h-1zM1038 496h1v1h-1zM1037 497h1v2h-1zM1036 499h1v1h-1zM1035 500h1v1h-1zM1034 501h1v2h-1zM774 502h4v1h-4zM768 503h6v1h-6zM778 503h1v1h-1zM1033 503h1v1h-1zM754 504h14v1h-14zM779 504h2v1h-2zM1032 504h1v1h-1zM752 505h2v1h-2zM781 505h1v1h-1zM1030 505h2v1h-2zM750 506h2v1h-2zM782 506h1v1h-1zM1029 506h1v1h-1zM748 507h2v1h-2zM783 507h1v1h-1zM1028 507h1v1h-1zM706 508h4v1h-4zM746 508h2v1h-2zM784 508h1v2h-1zM1026 508h2v1h-2zM705 509h1v1h-1zM710 509h9v1h-9zM743 509h3v1h-3zM1025 509h1v1h-1zM219 510h14v1h-14zM703 510h2v1h-2zM719 510h24v1h-24zM785 510h1v2h-1zM1023 510h2v1h-2zM216 511h3v1h-3zM233 511h1v1h-1zM702 511h1v1h-1zM1021 511h2v1h-2zM213 512h3v1h-3zM234 512h1v1h-1zM701 512h1v1h-1zM786 512h1v2h-1zM1019 512h2v1h-2zM208 513h5v1h-5zM235 513h1v2h-1zM699 513h2v1h-2zM1017 513h2v1h-2zM203 514h5v1h-5zM698 514h1v1h-1zM787 514h1v2h-1zM1015 514h2v1h-2zM202 515h1v1h-1zM236 515h1v1h-1zM697 515h1v1h-1zM1012 515h3v1h-3zM201 516h1v1h-1zM237 516h1v1h-1zM696 516h1v1h-1zM788 516h1v2h-1zM1008 516h4v1h-4zM200 517h1v1h-1zM238 517h1v1h-1zM695 517h1v2h-1zM1004 517h4v1h-4zM33 518h1v1h-1zM199 518h1v1h-1zM239 518h1v1h-1zM263 518h10v1h-10zM285 518h9v1h-9zM789 518h1v2h-1zM998 518h6v1h-6zM32 519h1v2h-1zM34 519h1v1h-1zM168 519h2v1h-2zM198 519h1v1h-1zM240 519h1v2h-1zM257 519h6v1h-6zM273 519h12v1h-12zM294 519h8v1h-8zM694 519h1v1h-1zM993 519h5v1h-5zM35 520h2v1h-2zM119 520h5v1h-5zM164 520h4v1h-4zM170 520h1v1h-1zM197 520h1v1h-1zM252 520h5v1h-5zM302 520h4v1h-4zM693 520h1v1h-1zM790 520h1v2h-1zM992 520h1v1h-1zM31 521h1v1h-1zM37 521h1v1h-1zM107 521h12v1h-12zM124 521h4v1h-4zM146 521h18v1h-18zM171 521h1v1h-1zM196 521h1v1h-1zM241 521h1v1h-1zM249 521h3v1h-3zM306 521h1v1h-1zM692 521h1v1h-1zM991 521h1v1h-1zM30 522h1v1h-1zM38 522h1v1h-1zM97 522h10v1h-10zM128 522h18v1h-18zM172 522h1v1h-1zM195 522h1v1h-1zM242 522h1v1h-1zM245 522h4v1h-4zM307 522h1v2h-1zM691 522h1v2h-1zM791 522h1v2h-1zM990 522h1v1h-1zM29 523h1v2h-1zM39 523h2v1h-2zM92 523h5v1h-5zM173 523h2v1h-2zM193 523h2v1h-2zM243 523h2v1h-2zM988 523h2v1h-2zM41 524h1v1h-1zM72 524h20v1h-20zM175 524h1v1h-1zM190 524h3v1h-3zM308 524h1v1h-1zM690 524h1v1h-1zM792 524h1v3h-1zM987 524h1v1h-1zM28 525h1v1h-1zM42 525h4v1h-4zM70 525h2v1h-2zM176 525h1v1h-1zM187 525h3v1h-3zM309 525h1v1h-1zM687 525h3v1h-3zM986 525h1v1h-1zM27 526h1v2h-1zM46 526h12v1h-12zM67 526h3v1h-3zM177 526h1v1h-1zM182 526h5v1h-5zM310 526h1v1h-1zM683 526h4v1h-4zM985 526h1v1h-1zM58 527h9v1h-9zM178 527h4v1h-4zM311 527h1v1h-1zM680 527h3v1h-3zM793 527h1v2h-1zM984 527h1v1h-1zM25 528h2v1h-2zM312 528h1v2h-1zM678 528h2v1h-2zM983 528h1v1h-1zM23 529h2v1h-2zM677 529h1v1h-1zM794 529h1v3h-1zM982 529h1v1h-1zM21 530h2v1h-2zM313 530h1v1h-1zM675 530h2v1h-2zM981 530h1v1h-1zM19 531h2v1h-2zM314 531h1v1h-1zM674 531h1v1h-1zM980 531h1v1h-1zM17 532h2v1h-2zM315 532h1v2h-1zM673 532h1v1h-1zM795 532h1v2h-1zM979 532h1v1h-1zM16 533h1v2h-1zM672 533h1v1h-1zM978 533h1v1h-1zM316 534h1v1h-1zM671 534h1v2h-1zM796 534h1v2h-1zM977 534h1v1h-1zM15 535h1v2h-1zM317 535h1v2h-1zM976 535h1v2h-1zM670 536h1v1h-1zM797 536h1v2h-1zM14 537h1v2h-1zM318 537h1v1h-1zM669 537h1v1h-1zM975 537h1v2h-1zM319 538h1v1h-1zM668 538h1v1h-1zM798 538h1v1h-1zM13 539h1v2h-1zM320 539h1v2h-1zM667 539h1v2h-1zM799 539h1v2h-1zM974 539h1v1h-1zM973 540h1v2h-1zM12 541h1v2h-1zM321 541h1v1h-1zM666 541h1v2h-1zM800 541h1v1h-1zM322 542h1v1h-1zM801 542h1v2h-1zM972 542h1v2h-1zM11 543h1v2h-1zM323 543h2v1h-2zM665 543h1v1h-1zM325 544h1v1h-1zM664 544h1v2h-1zM802 544h1v1h-1zM971 544h1v2h-1zM10 545h1v2h-1zM326 545h1v1h-1zM803 545h1v1h-1zM327 546h1v1h-1zM663 546h1v2h-1zM804 546h1v1h-1zM970 546h1v1h-1zM9 547h1v2h-1zM328 547h2v1h-2zM805 547h1v1h-1zM968 547h2v1h-2zM330 548h1v1h-1zM662 548h1v2h-1zM806 548h2v1h-2zM966 548h2v1h-2zM8 549h1v1h-1zM331 549h1v1h-1zM808 549h1v1h-1zM964 549h2v1h-2zM7 550h1v1h-1zM332 550h2v1h-2zM661 550h1v1h-1zM809 550h1v1h-1zM962 550h2v1h-2zM6 551h1v1h-1zM334 551h1v1h-1zM660 551h1v2h-1zM810 551h1v1h-1zM961 551h1v2h-1zM5 552h1v1h-1zM335 552h1v1h-1zM401 552h44v1h-44zM811 552h1v1h-1zM4 553h1v1h-1zM336 553h2v1h-2zM400 553h1v1h-1zM445 553h3v1h-3zM659 553h1v1h-1zM812 553h2v1h-2zM960 553h1v1h-1zM3 554h1v1h-1zM338 554h1v1h-1zM399 554h1v1h-1zM448 554h2v1h-2zM658 554h1v1h-1zM814 554h1v1h-1zM959 554h1v2h-1zM2 555h1v1h-1zM339 555h2v1h-2zM398 555h1v1h-1zM450 555h2v1h-2zM657 555h1v2h-1zM815 555h1v1h-1zM1 556h1v1h-1zM341 556h2v1h-2zM397 556h1v1h-1zM452 556h1v1h-1zM816 556h2v1h-2zM895 556h26v1h-26zM958 556h1v1h-1zM0 557h1v1h-1zM343 557h1v1h-1zM378 557h8v1h-8zM396 557h1v1h-1zM453 557h2v1h-2zM656 557h1v1h-1zM818 557h67v1h-67zM893 557h2v1h-2zM921 557h6v1h-6zM957 557h1v2h-1zM344 558h2v1h-2zM371 558h7v1h-7zM386 558h6v1h-6zM395 558h1v1h-1zM455 558h1v1h-1zM655 558h1v1h-1zM885 558h3v1h-3zM891 558h2v1h-2zM927 558h4v1h-4zM346 559h5v1h-5zM366 559h5v1h-5zM392 559h3v1h-3zM456 559h1v1h-1zM504 559h3v1h-3zM654 559h1v2h-1zM888 559h3v1h-3zM931 559h2v1h-2zM956 559h1v1h-1zM351 560h15v1h-15zM457 560h2v1h-2zM500 560h4v1h-4zM507 560h2v1h-2zM933 560h2v1h-2zM955 560h1v2h-1zM459 561h1v1h-1zM494 561h6v1h-6zM509 561h2v1h-2zM550 561h5v1h-5zM653 561h1v1h-1zM935 561h2v1h-2zM460 562h2v1h-2zM474 562h20v1h-20zM511 562h2v1h-2zM520 562h8v1h-8zM544 562h6v1h-6zM555 562h2v1h-2zM652 562h1v2h-1zM937 562h1v1h-1zM954 562h1v1h-1zM462 563h2v1h-2zM470 563h4v1h-4zM513 563h7v1h-7zM528 563h6v1h-6zM542 563h2v1h-2zM557 563h2v1h-2zM938 563h1v1h-1zM953 563h1v1h-1zM464 564h6v1h-6zM534 564h8v1h-8zM559 564h2v1h-2zM651 564h1v1h-1zM939 564h1v1h-1zM952 564h1v1h-1zM561 565h3v1h-3zM650 565h1v1h-1zM940 565h1v1h-1zM951 565h1v1h-1zM564 566h3v1h-3zM649 566h1v2h-1zM941 566h2v1h-2zM950 566h1v1h-1zM567 567h2v1h-2zM943 567h1v1h-1zM949 567h1v1h-1zM569 568h1v1h-1zM648 568h1v1h-1zM944 568h1v1h-1zM948 568h1v1h-1zM570 569h1v1h-1zM647 569h1v1h-1zM945 569h1v1h-1zM947 569h1v1h-1zM571 570h1v1h-1zM646 570h1v2h-1zM946 570h1v1h-1zM572 571h1v1h-1zM573 572h1v1h-1zM645 572h1v1h-1zM574 573h1v1h-1zM644 573h1v1h-1zM575 574h1v1h-1zM643 574h1v1h-1zM576 575h1v1h-1zM642 575h1v1h-1zM577 576h1v2h-1zM641 576h1v1h-1zM640 577h1v1h-1zM578 578h1v1h-1zM639 578h1v1h-1zM579 579h1v1h-1zM638 579h1v1h-1zM580 580h2v1h-2zM636 580h2v1h-2zM582 581h2v1h-2zM634 581h2v1h-2zM584 582h2v1h-2zM631 582h3v1h-3zM586 583h3v1h-3zM629 583h2v1h-2zM589 584h2v1h-2zM627 584h2v1h-2zM591 585h2v1h-2zM624 585h3v1h-3zM593 586h3v1h-3zM622 586h2v1h-2zM596 587h2v1h-2zM619 587h3v1h-3zM598 588h2v1h-2zM617 588h2v1h-2zM600 589h3v1h-3zM615 589h2v1h-2zM603 590h2v1h-2zM612 590h3v1h-3zM605 591h2v1h-2zM610 591h2v1h-2zM607 592h3v1h-3z" fill="#3CB371"/><path d="M1 419V450M9 409V443M17 405V486M25 444V513M33 497V534M41 497V530M49 474V524M57 480V503M65 478V509M73 468V512M81 469V499M89 480V491M97 477V495M105 469V491M113 458V494M121 464V493M129 460V501M137 470V506M145 461V487M153 443V478M161 418V468M169 427V458M177 398V446M185 401V424M193 418V440M201 425V461M209 417V451M217 424V456M225 435V502M233 468V488M241 483V547M249 465V542M257 423V485M265 457V525M273 437V478M281 470V495M289 462V502M297 476V497M305 465V494M313 463V530M321 526V556M329 511V525M337 513V552M345 538V562M353 507V559M361 431V520M369 429V478M377 462V478M385 434V470M393 417V453M401 445V494M409 454V480M417 438V482M425 467V491M433 469V499M441 456V480M449 465V514M457 506V553M465 510V542M473 502V529M481 503V536M489 524V558M497 513V554M505 524V556M513 516V553M521 513V541M529 490V523M537 497V520M545 484V525M553 432V502M561 433V454M569 429V445M577 400V440M585 354V416M593 301V372M601 332V420M609 385V406M617 390V407M625 391V439M633 380V414M641 376V423M649 395V455M657 419V473M665 443V473M673 446V511M681 460V489M689 473V524M697 432V505M705 429V477M713 441V468M721 444V490M729 431V461M737 401V458M745 378V464M753 447V482M761 452V473M769 434V459M777 437V466M785 427V531M793 511V559M801 548V567M809 517V534M817 503V530M825 475V526M833 457V483M841 414V477M849 413V453M857 413V431M865 380V428M873 418V446M881 445V488M889 444V487M897 445V485M905 447V459M913 447V467M921 448V481M929 405V473M937 385V427M945 306V392M953 274V348M961 301V334M969 278V316M977 287V329M985 311V340M993 319V336M1001 319V333M1009 313V335M1017 310V336M1025 313V356M1033 291V344M1041 288V314M1049 313V325M1057 286V322M1065 283V311M1073 284V325M1081 272V373M1089 347V376M1097 354V372M1105 334V375M1113 312V340M1121 284V347M1129 303V379M1137 342V368M1145 340V364M1153 339V373M1161 351V389M1169 246V379M1177 158V264M1185 169V197M1193 168V179M1201 152V179M1209 120V178M1217 111V137M1225 103V159M1233 118V143M1241 109V126M1249 116V137M1257 121V152M1265 132V204M1273 140V208M1281 165V205M1289 159V178M1297 157V175M1305 121V170M1313 134V168M1321 144V185M1329 140V160M1337 152V183M1345 143V169M1353 141V168M1361 109V178M1369 100V144M1377 55V124M1385 64V135" stroke="#000" stroke-width="1" fill="none" transform="translate(0.5,0)"/><path d="M15 424h5v36h-5zM23 460h5v42h-5zM39 501h5v17h-5zM55 484h5v2h-5zM63 484h5v7h-5zM79 480h5v2h-5zM87 487h5v2h-5zM95 486h5v1h-5zM111 472h5v5h-5zM127 465h5v32h-5zM167 429h5v6h-5zM183 402h5v17h-5zM191 418h5v16h-5zM199 433h5v8h-5zM215 433h5v13h-5zM223 446h5v37h-5zM231 483h5v2h-5zM239 484h5v54h-5zM263 461h5v4h-5zM271 465h5v6h-5zM279 471h5v5h-5zM287 476h5v16h-5zM303 478h5v3h-5zM311 480h5v49h-5zM319 528h5v13h-5zM327 519h5v2h-5zM335 521h5v28h-5zM367 432h5v36h-5zM375 467h5v2h-5zM391 445h5v2h-5zM399 445h5v20h-5zM407 464h5v9h-5zM415 471h5v4h-5zM423 475h5v4h-5zM447 465h5v49h-5zM455 513h5v25h-5zM479 506h5v30h-5zM495 525h5v18h-5zM511 534h5v5h-5zM535 504h5v14h-5zM567 432h5v4h-5zM599 350h5v48h-5zM607 397h5v2h-5zM615 399h5v3h-5zM623 403h5v6h-5zM639 396h5v13h-5zM647 409h5v42h-5zM655 450h5v21h-5zM671 457h5v26h-5zM679 481h5v1h-5zM687 481h5v17h-5zM711 446h5v17h-5zM743 403h5v56h-5zM751 457h5v6h-5zM767 454h5v1h-5zM775 454h5v1h-5zM783 454h5v64h-5zM791 517h5v41h-5zM799 557h5v2h-5zM815 520h5v5h-5zM847 413h5v1h-5zM855 414h5v7h-5zM863 419h5v3h-5zM871 422h5v23h-5zM879 445h5v12h-5zM887 457h5v28h-5zM903 451h5v1h-5zM911 451h5v6h-5zM919 457h5v14h-5zM951 307h5v13h-5zM975 294h5v28h-5zM983 321h5v9h-5zM1007 322h5v2h-5zM1023 316h5v12h-5zM1039 294h5v3h-5zM1063 293h5v10h-5zM1071 305h5v5h-5zM1079 309h5v64h-5zM1119 316h5v3h-5zM1127 319h5v47h-5zM1151 340h5v13h-5zM1159 352h5v21h-5zM1191 172h5v1h-5zM1215 128h5v2h-5zM1239 120h5v6h-5zM1247 125h5v6h-5zM1255 130h5v6h-5zM1263 137h5v46h-5zM1271 182h5v21h-5zM1295 164h5v3h-5zM1311 135h5v15h-5zM1319 152h5v1h-5zM1327 154h5v2h-5zM1335 156h5v8h-5zM1351 154h5v11h-5zM1383 67h5v67h-5z" fill="#000"/><path d="M-1 434h5v10h-5zM7 424h5v9h-5zM31 500h5v4h-5zM47 486h5v29h-5zM71 480h5v10h-5zM103 471h5v15h-5zM119 465h5v11h-5zM135 474h5v21h-5zM143 464h5v10h-5zM151 453h5v11h-5zM159 429h5v24h-5zM175 402h5v33h-5zM207 433h5v7h-5zM247 478h5v61h-5zM255 460h5v17h-5zM295 478h5v14h-5zM343 541h5v6h-5zM351 512h5v30h-5zM359 432h5v80h-5zM383 446h5v22h-5zM431 476h5v3h-5zM439 464h5v13h-5zM463 527h5v10h-5zM471 505h5v21h-5zM487 525h5v10h-5zM503 535h5v9h-5zM519 514h5v25h-5zM527 504h5v11h-5zM543 493h5v25h-5zM551 452h5v40h-5zM559 436h5v15h-5zM575 402h5v33h-5zM583 369h5v32h-5zM591 350h5v21h-5zM631 395h5v14h-5zM663 458h5v13h-5zM695 457h5v40h-5zM703 446h5v10h-5zM719 448h5v13h-5zM727 436h5v12h-5zM735 403h5v33h-5zM759 454h5v9h-5zM807 519h5v12h-5zM823 478h5v47h-5zM831 469h5v9h-5zM839 415h5v53h-5zM895 451h5v33h-5zM927 411h5v60h-5zM935 386h5v25h-5zM943 307h5v80h-5zM959 312h5v8h-5zM967 295h5v16h-5zM991 326h5v4h-5zM999 320h5v6h-5zM1015 317h5v8h-5zM1031 294h5v35h-5zM1047 318h5v4h-5zM1055 293h5v28h-5zM1087 363h5v9h-5zM1095 361h5v3h-5zM1103 337h5v24h-5zM1111 317h5v21h-5zM1135 363h5v3h-5zM1143 341h5v21h-5zM1167 262h5v111h-5zM1175 176h5v86h-5zM1183 171h5v5h-5zM1199 160h5v10h-5zM1207 127h5v33h-5zM1223 125h5v5h-5zM1231 122h5v5h-5zM1279 178h5v25h-5zM1287 164h5v13h-5zM1303 135h5v32h-5zM1343 154h5v10h-5zM1359 126h5v38h-5zM1367 114h5v12h-5zM1375 67h5v47h-5z" fill="#000"/><path d="M0 435h3v8h-3zM8 425h3v7h-3zM32 501h3v2h-3zM48 487h3v27h-3zM72 481h3v8h-3zM104 472h3v13h-3zM120 466h3v9h-3zM136 475h3v19h-3zM144 465h3v8h-3zM152 454h3v9h-3zM160 430h3v22h-3zM176 403h3v31h-3zM208 434h3v5h-3zM248 479h3v59h-3zM256 461h3v15h-3zM296 479h3v12h-3zM344 542h3v4h-3zM352 513h3v28h-3zM360 433h3v78h-3zM384 447h3v20h-3zM432 477h3v1h-3zM440 465h3v11h-3zM464 528h3v8h-3zM472 506h3v19h-3zM488 526h3v8h-3zM504 536h3v7h-3zM520 515h3v23h-3zM528 505h3v9h-3zM544 494h3v23h-3zM552 453h3v38h-3zM560 437h3v13h-3zM576 403h3v31h-3zM584 370h3v30h-3zM592 351h3v19h-3zM632 396h3v12h-3zM664 459h3v11h-3zM696 458h3v38h-3zM704 447h3v8h-3zM720 449h3v11h-3zM728 437h3v10h-3zM736 404h3v31h-3zM760 455h3v7h-3zM808 520h3v10h-3zM824 479h3v45h-3zM832 470h3v7h-3zM840 416h3v51h-3zM896 452h3v31h-3zM928 412h3v58h-3zM936 387h3v23h-3zM944 308h3v78h-3zM960 313h3v6h-3zM968 296h3v14h-3zM992 327h3v2h-3zM1000 321h3v4h-3zM1016 318h3v6h-3zM1032 295h3v33h-3zM1048 319h3v2h-3zM1056 294h3v26h-3zM1088 364h3v7h-3zM1096 362h3v1h-3zM1104 338h3v22h-3zM1112 318h3v19h-3zM1136 364h3v1h-3zM1144 342h3v19h-3zM1168 263h3v109h-3zM1176 177h3v84h-3zM1184 172h3v3h-3zM1200 161h3v8h-3zM1208 128h3v31h-3zM1224 126h3v3h-3zM1232 123h3v3h-3zM1280 179h3v23h-3zM1288 165h3v11h-3zM1304 136h3v30h-3zM1344 155h3v8h-3zM1360 127h3v36h-3zM1368 115h3v10h-3zM1376 68h3v45h-3z" fill="#fff"/><rect x="1301" y="145" width="110" height="9" fill="#0f0"/><path d="M1396 28h10l-5 5z" fill="#c0c0c0" shape-rendering="auto"/><rect x="1606" y="52" width="6" height="6" fill="#f00"/><rect x="1608" y="54" width="2" height="2" fill="#fff"/><rect x="1606" y="97" width="6" height="6" fill="#f00"/><rect x="1608" y="99" width="2" height="2" fill="#fff"/><rect x="1606" y="191" width="6" height="6" fill="#00f"/><rect x="1608" y="193" width="2" height="2" fill="#fff"/><rect x="1482" y="148" width="8" height="1" fill="#f00"/><rect x="1489" y="147" width="3" height="4" fill="#f00"/><rect x="1490" y="148" width="1" height="2" fill="#fff"/><rect x="1492" y="137" width="75" height="26" fill="#f00"/><rect x="1493" y="138" width="73" height="24" fill="#fff"/></g><text x="1495" y="158" font-size="22" fill="#f00" textLength="69" lengthAdjust="spacingAndGlyphs">142.844</text><g transform="translate(1398.7,228.9) scale(1.1,1)"><text x="3" y="1" font-size="29.5" fill="#101030" transform="translate(1.1,1.2)" textLength="145.5" lengthAdjust="spacingAndGlyphs" style="font-family:'Liberation Sans','Noto Sans CJK SC',sans-serif">多空转折点</text><text x="3" y="1" font-size="29.5" fill="#0f0" textLength="145.5" lengthAdjust="spacingAndGlyphs" style="font-family:'Liberation Sans','Noto Sans CJK SC',sans-serif">多空转折点</text></g><g shape-rendering="crispEdges" fill="#000"><rect x="0" y="27" width="1613" height="1"/><rect x="1612" y="27" width="1" height="902"/><rect x="0" y="580" width="1613" height="1"/><rect x="0" y="581" width="1613" height="1" fill="#fff"/><rect x="0" y="582" width="1613" height="1"/><rect x="0" y="752" width="1613" height="1"/><rect x="0" y="753" width="1613" height="1" fill="#fff"/><rect x="0" y="754" width="1613" height="1"/><rect x="0" y="928" width="1613" height="1"/><rect x="1613" y="49" width="2" height="1"/><rect x="1613" y="82" width="2" height="1"/><rect x="1613" y="115" width="2" height="1"/><rect x="1613" y="148" width="2" height="1"/><rect x="1613" y="181" width="2" height="1"/><rect x="1613" y="214" width="2" height="1"/><rect x="1613" y="247" width="2" height="1"/><rect x="1613" y="280" width="2" height="1"/><rect x="1613" y="313" width="2" height="1"/><rect x="1613" y="346" width="2" height="1"/><rect x="1613" y="379" width="2" height="1"/><rect x="1613" y="412" width="2" height="1"/><rect x="1613" y="445" width="2" height="1"/><rect x="1613" y="478" width="2" height="1"/><rect x="1613" y="511" width="2" height="1"/><rect x="1613" y="544" width="2" height="1"/><rect x="1613" y="577" width="2" height="1"/><rect x="1613" y="584" width="1" height="1"/><rect x="1613" y="707" width="2" height="1"/><rect x="1613" y="751" width="1" height="1"/><rect x="1613" y="756" width="1" height="1"/><rect x="1613" y="927" width="1" height="1"/><rect x="57" y="929" width="1" height="3"/><rect x="121" y="929" width="1" height="3"/><rect x="185" y="929" width="1" height="3"/><rect x="249" y="929" width="1" height="3"/><rect x="313" y="929" width="1" height="3"/><rect x="377" y="929" width="1" height="3"/><rect x="441" y="929" width="1" height="3"/><rect x="505" y="929" width="1" height="3"/><rect x="569" y="929" width="1" height="3"/><rect x="633" y="929" width="1" height="3"/><rect x="697" y="929" width="1" height="3"/><rect x="761" y="929" width="1" height="3"/><rect x="825" y="929" width="1" height="3"/><rect x="889" y="929" width="1" height="3"/><rect x="953" y="929" width="1" height="3"/><rect x="1017" y="929" width="1" height="3"/><rect x="1081" y="929" width="1" height="3"/><rect x="1145" y="929" width="1" height="3"/><rect x="1209" y="929" width="1" height="3"/><rect x="1273" y="929" width="1" height="3"/><rect x="1337" y="929" width="1" height="3"/></g><g font-size="10" fill="#000"><text x="1618.6" y="53" textLength="32.4" lengthAdjust="spacingAndGlyphs">143.695</text><text x="1618.6" y="86" textLength="32.4" lengthAdjust="spacingAndGlyphs">143.415</text><text x="1618.6" y="119" textLength="32.4" lengthAdjust="spacingAndGlyphs">143.135</text><text x="1618.6" y="152" textLength="32.4" lengthAdjust="spacingAndGlyphs">142.855</text><text x="1618.6" y="185" textLength="32.4" lengthAdjust="spacingAndGlyphs">142.575</text><text x="1618.6" y="218" textLength="32.4" lengthAdjust="spacingAndGlyphs">142.295</text><text x="1618.6" y="251" textLength="32.4" lengthAdjust="spacingAndGlyphs">142.010</text><text x="1618.6" y="284" textLength="32.4" lengthAdjust="spacingAndGlyphs">141.730</text><text x="1618.6" y="317" textLength="32.4" lengthAdjust="spacingAndGlyphs">141.450</text><text x="1618.6" y="350" textLength="32.4" lengthAdjust="spacingAndGlyphs">141.170</text><text x="1618.6" y="383" textLength="32.4" lengthAdjust="spacingAndGlyphs">140.890</text><text x="1618.6" y="416" textLength="32.4" lengthAdjust="spacingAndGlyphs">140.610</text><text x="1618.6" y="449" textLength="32.4" lengthAdjust="spacingAndGlyphs">140.330</text><text x="1618.6" y="482" textLength="32.4" lengthAdjust="spacingAndGlyphs">140.050</text><text x="1618.6" y="515" textLength="32.4" lengthAdjust="spacingAndGlyphs">139.770</text><text x="1618.6" y="548" textLength="32.4" lengthAdjust="spacingAndGlyphs">139.490</text><text x="1618.6" y="581" textLength="32.4" lengthAdjust="spacingAndGlyphs">139.210</text><text x="1616.2" y="593" textLength="27.5" lengthAdjust="spacingAndGlyphs">0.5591</text><text x="1616.2" y="711" textLength="17.6" lengthAdjust="spacingAndGlyphs">0.00</text><text x="1616.2" y="749" textLength="30.6" lengthAdjust="spacingAndGlyphs">-0.2037</text><text x="1615.5" y="765" textLength="14.9" lengthAdjust="spacingAndGlyphs">100</text><text x="1615.5" y="794" textLength="9.9" lengthAdjust="spacingAndGlyphs">80</text><text x="1615.5" y="845" textLength="9.9" lengthAdjust="spacingAndGlyphs">50</text><text x="1615.5" y="906" textLength="9.9" lengthAdjust="spacingAndGlyphs">15</text><text x="1615.5" y="925" textLength="5" lengthAdjust="spacingAndGlyphs">0</text></g><g shape-rendering="crispEdges"><rect x="1614" y="49" width="41" height="11" fill="#f00"/><rect x="1614" y="94" width="41" height="11" fill="#f00"/><rect x="1614" y="129" width="41" height="11" fill="#000"/><rect x="1614" y="143" width="41" height="11" fill="#32cd32"/><rect x="1614" y="188" width="41" height="11" fill="#00f"/><rect x="1614" y="230" width="41" height="11" fill="#00f"/></g><g font-size="10" fill="#fff"><text x="1618.6" y="58" textLength="32.4" lengthAdjust="spacingAndGlyphs">143.641</text><text x="1618.6" y="103" textLength="32.4" lengthAdjust="spacingAndGlyphs">143.260</text><text x="1618.6" y="138" textLength="32.4" lengthAdjust="spacingAndGlyphs">142.974</text><text x="1618.6" y="152" textLength="32.4" lengthAdjust="spacingAndGlyphs">142.844</text><text x="1618.6" y="197" textLength="32.4" lengthAdjust="spacingAndGlyphs">142.463</text><text x="1618.6" y="239" textLength="32.4" lengthAdjust="spacingAndGlyphs">142.103</text></g><g clip-path="url(#c2)"><path d="M1 670h1v38h-1zM9 667h1v41h-1zM17 671h1v37h-1zM25 680h1v28h-1zM33 688h1v20h-1zM41 697h1v11h-1zM49 699h1v9h-1zM57 700h1v8h-1zM65 703h1v5h-1zM73 703h1v5h-1zM81 703h1v5h-1zM89 705h1v3h-1zM97 705h1v3h-1zM105 704h1v4h-1zM113 704h1v4h-1zM121 703h1v5h-1zM129 705h1v3h-1zM137 704h1v4h-1zM145 703h1v5h-1zM153 699h1v9h-1zM161 693h1v15h-1zM169 689h1v19h-1zM177 682h1v26h-1zM185 679h1v29h-1zM193 679h1v29h-1zM201 680h1v28h-1zM209 680h1v28h-1zM217 686h1v22h-1zM225 691h1v17h-1zM233 697h1v11h-1zM241 707h1v2h-1zM249 707h1v4h-1zM257 707h1v2h-1zM265 707h1v2h-1zM273 707h1v2h-1zM281 707h1v3h-1zM289 707h1v6h-1zM297 707h1v5h-1zM305 707h1v7h-1zM313 707h1v14h-1zM321 707h1v22h-1zM329 707h1v24h-1zM337 707h1v30h-1zM345 707h1v34h-1zM353 707h1v32h-1zM361 707h1v18h-1zM369 707h1v12h-1zM377 707h1v7h-1zM393 702h1v6h-1zM401 701h1v7h-1zM409 701h1v7h-1zM417 701h1v7h-1zM425 702h1v6h-1zM433 703h1v5h-1zM441 702h1v6h-1zM457 707h1v8h-1zM465 707h1v13h-1zM473 707h1v14h-1zM481 707h1v19h-1zM489 707h1v21h-1zM497 707h1v25h-1zM505 707h1v27h-1zM513 707h1v28h-1zM521 707h1v26h-1zM529 707h1v22h-1zM537 707h1v20h-1zM545 707h1v15h-1zM553 707h1v5h-1zM561 703h1v5h-1zM569 694h1v14h-1zM577 683h1v25h-1zM585 670h1v38h-1zM593 657h1v51h-1zM601 654h1v54h-1zM609 653h1v55h-1zM617 653h1v55h-1zM625 655h1v53h-1zM633 655h1v53h-1zM641 660h1v48h-1zM649 667h1v41h-1zM657 677h1v31h-1zM665 684h1v24h-1zM673 693h1v15h-1zM681 700h1v8h-1zM705 707h1v1h-1zM721 707h1v1h-1zM729 703h1v5h-1zM737 697h1v11h-1zM745 700h1v8h-1zM753 702h1v6h-1zM761 703h1v5h-1zM769 705h1v3h-1zM777 706h1v2h-1zM785 707h1v8h-1zM793 707h1v22h-1zM801 707h1v33h-1zM809 707h1v35h-1zM817 707h1v37h-1zM825 707h1v31h-1zM833 707h1v25h-1zM841 707h1v12h-1zM849 707h1v1h-1zM857 701h1v7h-1zM865 696h1v12h-1zM873 695h1v13h-1zM881 696h1v12h-1zM889 702h1v6h-1zM897 701h1v7h-1zM905 702h1v6h-1zM913 701h1v7h-1zM921 704h1v4h-1zM929 699h1v9h-1zM937 688h1v20h-1zM945 669h1v39h-1zM953 657h1v51h-1zM961 647h1v61h-1zM969 637h1v71h-1zM977 634h1v74h-1zM985 634h1v74h-1zM993 634h1v74h-1zM1001 634h1v74h-1zM1009 636h1v72h-1zM1017 636h1v72h-1zM1025 640h1v68h-1zM1033 638h1v70h-1zM1041 638h1v70h-1zM1049 641h1v67h-1zM1057 641h1v67h-1zM1065 644h1v64h-1zM1073 647h1v61h-1zM1081 660h1v48h-1zM1089 669h1v39h-1zM1097 676h1v32h-1zM1105 679h1v29h-1zM1113 678h1v30h-1zM1121 678h1v30h-1zM1129 686h1v22h-1zM1137 691h1v17h-1zM1145 693h1v15h-1zM1153 695h1v13h-1zM1161 701h1v7h-1zM1169 689h1v19h-1zM1177 667h1v41h-1zM1185 649h1v59h-1zM1193 636h1v72h-1zM1201 625h1v83h-1zM1209 612h1v96h-1zM1217 604h1v104h-1zM1225 598h1v110h-1zM1233 593h1v115h-1zM1241 592h1v116h-1zM1249 593h1v115h-1zM1257 596h1v112h-1zM1265 606h1v102h-1zM1273 619h1v89h-1zM1281 626h1v82h-1zM1289 630h1v78h-1zM1297 635h1v73h-1zM1305 635h1v73h-1zM1313 638h1v70h-1zM1321 641h1v67h-1zM1329 645h1v63h-1zM1337 650h1v58h-1zM1345 652h1v56h-1zM1353 657h1v51h-1zM1361 656h1v52h-1zM1369 654h1v54h-1zM1377 645h1v63h-1zM1385 650h1v58h-1z" fill="#c0c0c0" shape-rendering="crispEdges"/><path d="M1266 602h1v1h-1zM1270 602h3v1h-3zM1276 602h3v1h-3zM1264 603h2v1h-2zM1282 603h2v1h-2zM1260 604h1v1h-1zM1284 604h1v1h-1zM1258 605h2v1h-2zM1288 605h2v1h-2zM1290 606h1v1h-1zM1254 607h1v1h-1zM1252 608h2v1h-2zM1294 608h2v1h-2zM1296 609h1v1h-1zM1300 611h2v1h-2zM1248 612h1v1h-1zM1302 612h1v1h-1zM1247 613h1v1h-1zM1246 614h1v1h-1zM1306 615h2v1h-2zM1308 616h1v1h-1zM1243 618h1v1h-1zM1242 619h1v1h-1zM1312 619h2v1h-2zM1241 620h1v1h-1zM1314 620h1v1h-1zM1318 622h1v1h-1zM1319 623h1v1h-1zM1239 624h1v1h-1zM1320 624h1v1h-1zM1238 625h1v1h-1zM1237 626h1v1h-1zM1324 626h1v1h-1zM1325 627h2v1h-2zM1234 630h1v2h-1zM1330 630h2v1h-2zM1332 631h1v1h-1zM1233 632h1v1h-1zM1336 633h1v1h-1zM1337 634h2v1h-2zM1031 635h3v1h-3zM1037 635h3v1h-3zM1043 635h3v1h-3zM1025 636h3v1h-3zM1049 636h3v1h-3zM1055 636h1v1h-1zM1230 636h1v1h-1zM1342 636h1v1h-1zM1020 637h2v1h-2zM1056 637h2v1h-2zM1229 637h1v1h-1zM1343 637h2v1h-2zM1019 638h1v1h-1zM1061 638h3v1h-3zM1067 638h2v1h-2zM1228 638h1v1h-1zM1014 639h2v1h-2zM1069 639h1v1h-1zM1073 639h2v1h-2zM1348 639h1v1h-1zM1013 640h1v1h-1zM1075 640h1v1h-1zM1349 640h2v1h-2zM1079 641h1v1h-1zM1008 642h2v1h-2zM1080 642h2v1h-2zM1225 642h1v1h-1zM1354 642h2v1h-2zM1007 643h1v1h-1zM1085 643h1v1h-1zM1224 643h1v1h-1zM1356 643h1v1h-1zM1086 644h2v1h-2zM1223 644h1v1h-1zM1360 644h1v1h-1zM1361 645h2v1h-2zM1003 646h1v1h-1zM1091 646h2v1h-2zM1366 646h3v1h-3zM1001 647h2v1h-2zM1093 647h1v1h-1zM1372 647h1v1h-1zM1220 648h1v1h-1zM1373 648h2v1h-2zM1378 648h3v1h-3zM1097 649h2v1h-2zM1219 649h1v1h-1zM1384 649h2v1h-2zM1099 650h1v1h-1zM1218 650h1v1h-1zM997 651h1v1h-1zM996 652h1v1h-1zM1103 652h1v1h-1zM995 653h1v1h-1zM1104 653h1v1h-1zM1105 654h1v1h-1zM1215 654h1v2h-1zM1109 656h1v1h-1zM1214 656h1v1h-1zM653 657h3v1h-3zM991 657h1v1h-1zM1110 657h1v1h-1zM647 658h3v1h-3zM659 658h1v1h-1zM990 658h1v1h-1zM1111 658h1v1h-1zM643 659h1v1h-1zM660 659h2v1h-2zM989 659h1v1h-1zM641 660h2v1h-2zM1115 660h1v1h-1zM1211 660h1v1h-1zM665 661h2v1h-2zM1116 661h2v1h-2zM1210 661h1v1h-1zM637 662h1v1h-1zM667 662h1v1h-1zM1209 662h1v1h-1zM635 663h2v1h-2zM985 663h1v1h-1zM1121 663h1v1h-1zM671 664h2v1h-2zM983 664h2v1h-2zM1122 664h2v1h-2zM631 665h1v1h-1zM673 665h1v1h-1zM630 666h1v1h-1zM1127 666h1v1h-1zM1206 666h1v1h-1zM629 667h1v1h-1zM677 667h1v1h-1zM1128 667h2v1h-2zM1205 667h1v2h-1zM678 668h2v1h-2zM979 668h1v1h-1zM978 669h1v1h-1zM624 670h2v1h-2zM683 670h1v1h-1zM977 670h1v1h-1zM1133 670h2v1h-2zM623 671h1v1h-1zM684 671h2v1h-2zM1135 671h1v1h-1zM1201 671h1v1h-1zM1200 672h1v1h-1zM24 673h3v1h-3zM1199 673h1v1h-1zM13 674h2v1h-2zM18 674h3v1h-3zM30 674h3v1h-3zM973 674h1v1h-1zM1139 674h1v1h-1zM6 675h3v1h-3zM12 675h1v1h-1zM36 675h2v1h-2zM619 675h1v1h-1zM689 675h2v1h-2zM972 675h1v1h-1zM1140 675h2v1h-2zM2 676h1v1h-1zM38 676h1v1h-1zM617 676h2v1h-2zM691 676h1v1h-1zM971 676h1v1h-1zM1195 676h1v1h-1zM0 677h2v1h-2zM42 677h2v1h-2zM1193 677h2v1h-2zM44 678h1v1h-1zM1145 678h2v1h-2zM967 679h1v1h-1zM1147 679h1v1h-1zM48 680h2v1h-2zM613 680h1v1h-1zM695 680h2v1h-2zM966 680h1v1h-1zM1188 680h2v1h-2zM50 681h1v1h-1zM612 681h1v1h-1zM697 681h1v1h-1zM965 681h1v1h-1zM1151 681h1v1h-1zM1187 681h1v1h-1zM54 682h3v1h-3zM611 682h1v1h-1zM1152 682h2v1h-2zM60 683h1v1h-1zM228 683h3v1h-3zM234 683h1v1h-1zM1182 683h2v1h-2zM61 684h2v1h-2zM217 684h2v1h-2zM222 684h3v1h-3zM235 684h2v1h-2zM961 684h1v1h-1zM1157 684h3v1h-3zM1181 684h1v1h-1zM66 685h1v1h-1zM216 685h1v1h-1zM701 685h2v1h-2zM960 685h1v1h-1zM1163 685h1v1h-1zM1176 685h2v1h-2zM67 686h2v1h-2zM210 686h3v1h-3zM240 686h2v1h-2zM607 686h1v1h-1zM703 686h1v1h-1zM959 686h1v1h-1zM1164 686h2v1h-2zM1175 686h1v1h-1zM242 687h1v1h-1zM606 687h1v1h-1zM1169 687h3v1h-3zM204 688h3v1h-3zM246 688h1v1h-1zM605 688h1v1h-1zM72 689h2v1h-2zM199 689h2v1h-2zM247 689h2v1h-2zM954 689h2v1h-2zM74 690h1v1h-1zM198 690h1v1h-1zM707 690h2v1h-2zM953 690h1v1h-1zM193 691h2v1h-2zM252 691h3v1h-3zM709 691h1v1h-1zM78 692h2v1h-2zM192 692h1v1h-1zM601 692h1v1h-1zM949 692h1v1h-1zM80 693h1v1h-1zM187 693h2v1h-2zM258 693h1v1h-1zM600 693h1v1h-1zM947 693h2v1h-2zM186 694h1v1h-1zM259 694h2v1h-2zM599 694h1v1h-1zM713 694h1v1h-1zM84 695h2v1h-2zM181 695h2v1h-2zM714 695h2v1h-2zM943 695h1v1h-1zM86 696h1v1h-1zM180 696h1v1h-1zM264 696h1v1h-1zM941 696h2v1h-2zM90 697h1v1h-1zM174 697h3v1h-3zM265 697h2v1h-2zM719 697h1v1h-1zM937 697h1v1h-1zM91 698h2v1h-2zM595 698h1v1h-1zM720 698h2v1h-2zM931 698h1v1h-1zM935 698h2v1h-2zM96 699h1v1h-1zM168 699h3v1h-3zM270 699h2v1h-2zM594 699h1v1h-1zM923 699h3v1h-3zM929 699h2v1h-2zM97 700h2v1h-2zM164 700h1v1h-1zM272 700h1v1h-1zM593 700h1v1h-1zM725 700h3v1h-3zM911 700h3v1h-3zM917 700h3v1h-3zM102 701h3v1h-3zM162 701h2v1h-2zM276 701h2v1h-2zM731 701h1v1h-1zM108 702h3v1h-3zM156 702h3v1h-3zM278 702h1v1h-1zM450 702h3v1h-3zM732 702h2v1h-2zM906 702h2v1h-2zM114 703h3v1h-3zM120 703h3v1h-3zM140 703h1v1h-1zM144 703h3v1h-3zM150 703h3v1h-3zM282 703h1v1h-1zM444 703h3v1h-3zM456 703h3v1h-3zM737 703h3v1h-3zM743 703h3v1h-3zM905 703h1v1h-1zM126 704h3v1h-3zM132 704h3v1h-3zM138 704h2v1h-2zM283 704h2v1h-2zM438 704h3v1h-3zM462 704h3v1h-3zM590 704h1v1h-1zM749 704h3v1h-3zM755 704h3v1h-3zM761 704h3v1h-3zM767 704h3v1h-3zM773 704h3v1h-3zM779 704h3v1h-3zM785 704h3v1h-3zM901 704h1v1h-1zM432 705h3v1h-3zM589 705h1v1h-1zM791 705h3v1h-3zM899 705h2v1h-2zM288 706h2v1h-2zM428 706h1v1h-1zM468 706h3v1h-3zM588 706h1v1h-1zM290 707h1v1h-1zM426 707h2v1h-2zM797 707h1v1h-1zM894 707h2v1h-2zM294 708h2v1h-2zM474 708h3v1h-3zM798 708h1v1h-1zM893 708h1v1h-1zM296 709h1v1h-1zM421 709h2v1h-2zM799 709h1v1h-1zM300 710h3v1h-3zM420 710h1v1h-1zM480 710h3v1h-3zM584 710h1v1h-1zM888 710h2v1h-2zM306 711h2v1h-2zM583 711h1v1h-1zM887 711h1v1h-1zM308 712h1v1h-1zM312 712h3v1h-3zM416 712h1v1h-1zM486 712h2v1h-2zM582 712h1v1h-1zM803 712h1v1h-1zM318 713h3v1h-3zM414 713h2v1h-2zM488 713h1v1h-1zM804 713h1v1h-1zM882 713h2v1h-2zM492 714h1v1h-1zM805 714h1v1h-1zM881 714h1v1h-1zM324 715h2v1h-2zM493 715h2v1h-2zM578 715h1v1h-1zM326 716h1v1h-1zM409 716h2v1h-2zM577 716h1v1h-1zM330 717h1v1h-1zM408 717h1v1h-1zM498 717h1v1h-1zM576 717h1v1h-1zM809 717h1v1h-1zM876 717h2v1h-2zM331 718h2v1h-2zM499 718h2v1h-2zM810 718h2v1h-2zM875 718h1v1h-1zM403 719h2v1h-2zM336 720h1v1h-1zM402 720h1v1h-1zM571 720h2v1h-2zM871 720h1v1h-1zM337 721h2v1h-2zM504 721h2v1h-2zM570 721h1v1h-1zM815 721h1v1h-1zM870 721h1v1h-1zM398 722h1v1h-1zM506 722h1v1h-1zM816 722h2v1h-2zM869 722h1v1h-1zM342 723h2v1h-2zM396 723h2v1h-2zM821 723h1v1h-1zM344 724h1v1h-1zM510 724h3v1h-3zM565 724h2v1h-2zM822 724h2v1h-2zM865 724h1v1h-1zM348 725h1v1h-1zM391 725h2v1h-2zM564 725h1v1h-1zM827 725h2v1h-2zM864 725h1v1h-1zM349 726h2v1h-2zM390 726h1v1h-1zM516 726h3v1h-3zM829 726h1v1h-1zM863 726h1v1h-1zM384 727h3v1h-3zM522 727h1v1h-1zM558 727h3v1h-3zM354 728h3v1h-3zM360 728h3v1h-3zM366 728h3v1h-3zM372 728h3v1h-3zM378 728h3v1h-3zM523 728h2v1h-2zM554 728h1v1h-1zM833 728h3v1h-3zM857 728h3v1h-3zM528 729h3v1h-3zM534 729h2v1h-2zM548 729h1v1h-1zM552 729h2v1h-2zM839 729h3v1h-3zM845 729h1v1h-1zM852 729h2v1h-2zM536 730h1v1h-1zM540 730h3v1h-3zM546 730h2v1h-2zM846 730h2v1h-2zM851 730h1v1h-1z" fill="#f00" shape-rendering="crispEdges"/></g><text x="-2.6" y="595" font-size="10" fill="#000" textLength="127.4" lengthAdjust="spacingAndGlyphs">MACD(12,26,9) 0.2632 0.2620</text><g clip-path="url(#c3)" shape-rendering="crispEdges"><line x1="0" y1="790.5" x2="1612" y2="790.5" stroke="#c0c0c0" stroke-width="1" stroke-dasharray="3,3"/><line x1="0" y1="841.5" x2="1612" y2="841.5" stroke="#c0c0c0" stroke-width="1" stroke-dasharray="3,3"/><line x1="0" y1="902.5" x2="1612" y2="902.5" stroke="#c0c0c0" stroke-width="1" stroke-dasharray="3,3"/><path d="M1209 799h3v1h-3zM1232 799h3v1h-3zM1208 800h1v1h-1zM1212 800h4v1h-4zM1228 800h4v1h-4zM1235 800h3v1h-3zM1206 801h2v1h-2zM1216 801h12v1h-12zM1238 801h2v1h-2zM593 802h1v2h-1zM1205 802h1v1h-1zM1240 802h6v1h-6zM591 803h2v1h-2zM1204 803h1v1h-1zM1246 803h5v1h-5zM589 804h2v1h-2zM594 804h1v2h-1zM1202 804h2v1h-2zM1251 804h2v1h-2zM587 805h2v1h-2zM1182 805h8v1h-8zM1198 805h4v1h-4zM1253 805h2v1h-2zM585 806h2v1h-2zM595 806h1v3h-1zM1177 806h5v1h-5zM1190 806h8v1h-8zM1255 806h2v1h-2zM1377 806h1v2h-1zM584 807h1v1h-1zM945 807h2v1h-2zM968 807h2v1h-2zM1176 807h1v2h-1zM1257 807h1v2h-1zM1376 807h1v1h-1zM583 808h1v1h-1zM944 808h1v2h-1zM947 808h2v1h-2zM966 808h2v1h-2zM970 808h1v1h-1zM1375 808h1v2h-1zM1378 808h1v3h-1zM582 809h1v1h-1zM596 809h1v2h-1zM949 809h2v1h-2zM963 809h3v1h-3zM971 809h1v2h-1zM1175 809h1v2h-1zM1258 809h1v2h-1zM580 810h2v1h-2zM943 810h1v2h-1zM951 810h2v1h-2zM958 810h5v1h-5zM1374 810h1v1h-1zM579 811h1v1h-1zM597 811h1v3h-1zM953 811h5v1h-5zM972 811h1v1h-1zM1174 811h1v2h-1zM1259 811h1v2h-1zM1373 811h1v1h-1zM1379 811h1v3h-1zM578 812h1v1h-1zM942 812h1v2h-1zM973 812h1v1h-1zM1372 812h1v1h-1zM577 813h1v1h-1zM974 813h1v1h-1zM1173 813h1v1h-1zM1260 813h1v3h-1zM1371 813h1v2h-1zM576 814h1v1h-1zM598 814h1v2h-1zM941 814h1v1h-1zM975 814h1v2h-1zM1172 814h1v2h-1zM1380 814h1v3h-1zM575 815h1v1h-1zM940 815h1v2h-1zM1033 815h3v1h-3zM1370 815h1v1h-1zM177 816h1v1h-1zM574 816h1v1h-1zM599 816h1v3h-1zM976 816h1v1h-1zM1032 816h1v1h-1zM1036 816h4v1h-4zM1171 816h1v2h-1zM1261 816h1v2h-1zM1369 816h1v1h-1zM176 817h1v1h-1zM178 817h1v1h-1zM573 817h1v2h-1zM939 817h1v2h-1zM977 817h2v1h-2zM1031 817h1v1h-1zM1040 817h2v1h-2zM1305 817h1v1h-1zM1367 817h2v1h-2zM1381 817h1v4h-1zM175 818h1v2h-1zM179 818h1v1h-1zM979 818h3v1h-3zM998 818h8v1h-8zM1014 818h4v1h-4zM1030 818h1v1h-1zM1042 818h1v1h-1zM1057 818h2v1h-2zM1170 818h1v2h-1zM1262 818h1v3h-1zM1304 818h1v1h-1zM1306 818h2v1h-2zM1365 818h2v1h-2zM180 819h1v1h-1zM572 819h1v1h-1zM600 819h1v2h-1zM938 819h1v2h-1zM982 819h2v1h-2zM990 819h8v1h-8zM1006 819h8v1h-8zM1018 819h2v1h-2zM1029 819h1v1h-1zM1043 819h1v1h-1zM1056 819h1v1h-1zM1059 819h2v1h-2zM1303 819h1v1h-1zM1308 819h1v1h-1zM1363 819h2v1h-2zM174 820h1v1h-1zM181 820h1v2h-1zM571 820h1v1h-1zM984 820h6v1h-6zM1020 820h2v1h-2zM1028 820h1v1h-1zM1044 820h1v1h-1zM1055 820h1v1h-1zM1061 820h2v1h-2zM1169 820h1v2h-1zM1302 820h1v1h-1zM1309 820h1v1h-1zM1361 820h2v1h-2zM173 821h1v1h-1zM570 821h1v1h-1zM601 821h1v2h-1zM937 821h1v1h-1zM1022 821h1v1h-1zM1027 821h1v1h-1zM1045 821h1v1h-1zM1054 821h1v1h-1zM1063 821h2v1h-2zM1263 821h1v2h-1zM1301 821h1v1h-1zM1310 821h2v1h-2zM1360 821h1v2h-1zM1382 821h1v3h-1zM172 822h1v1h-1zM182 822h1v1h-1zM560 822h10v1h-10zM602 822h12v1h-12zM633 822h1v1h-1zM936 822h1v1h-1zM1023 822h2v1h-2zM1026 822h1v1h-1zM1046 822h1v1h-1zM1052 822h2v1h-2zM1065 822h2v1h-2zM1168 822h1v4h-1zM1300 822h1v1h-1zM1312 822h1v1h-1zM161 823h2v1h-2zM171 823h1v2h-1zM183 823h1v1h-1zM558 823h2v1h-2zM614 823h5v1h-5zM631 823h2v1h-2zM634 823h2v1h-2zM934 823h2v1h-2zM1025 823h1v1h-1zM1047 823h1v1h-1zM1051 823h1v1h-1zM1067 823h3v1h-3zM1264 823h1v2h-1zM1299 823h1v1h-1zM1313 823h10v1h-10zM1359 823h1v1h-1zM160 824h1v1h-1zM163 824h3v1h-3zM184 824h1v1h-1zM555 824h3v1h-3zM619 824h3v1h-3zM629 824h2v1h-2zM636 824h1v1h-1zM933 824h1v1h-1zM1048 824h1v1h-1zM1050 824h1v1h-1zM1070 824h2v1h-2zM1288 824h6v1h-6zM1298 824h1v1h-1zM1323 824h2v1h-2zM1358 824h1v2h-1zM1383 824h1v3h-1zM159 825h1v1h-1zM166 825h2v1h-2zM170 825h1v1h-1zM185 825h1v1h-1zM553 825h2v1h-2zM622 825h2v1h-2zM627 825h2v1h-2zM637 825h1v1h-1zM737 825h1v2h-1zM841 825h11v1h-11zM932 825h1v1h-1zM1049 825h1v1h-1zM1072 825h2v1h-2zM1265 825h1v2h-1zM1286 825h2v1h-2zM1294 825h4v1h-4zM1325 825h2v1h-2zM1345 825h1v1h-1zM8 826h2v1h-2zM158 826h1v1h-1zM168 826h2v1h-2zM186 826h2v1h-2zM361 826h1v2h-1zM552 826h1v2h-1zM624 826h3v1h-3zM638 826h2v1h-2zM736 826h1v1h-1zM840 826h1v2h-1zM852 826h4v1h-4zM930 826h2v1h-2zM1073 826h1v1h-1zM1167 826h1v4h-1zM1283 826h3v1h-3zM1327 826h2v1h-2zM1343 826h2v1h-2zM1346 826h1v1h-1zM1357 826h1v1h-1zM4 827h4v1h-4zM10 827h1v1h-1zM157 827h1v1h-1zM188 827h1v1h-1zM362 827h1v1h-1zM640 827h1v1h-1zM735 827h1v2h-1zM738 827h1v2h-1zM856 827h6v1h-6zM929 827h1v2h-1zM1074 827h1v3h-1zM1266 827h1v1h-1zM1281 827h2v1h-2zM1329 827h2v1h-2zM1342 827h1v1h-1zM1347 827h1v1h-1zM1356 827h1v2h-1zM1384 827h1v3h-1zM1 828h3v1h-3zM11 828h1v2h-1zM156 828h1v1h-1zM189 828h1v1h-1zM360 828h1v3h-1zM363 828h1v2h-1zM551 828h1v1h-1zM641 828h1v2h-1zM839 828h1v2h-1zM862 828h4v1h-4zM1267 828h1v1h-1zM1280 828h1v1h-1zM1331 828h3v1h-3zM1340 828h2v1h-2zM1348 828h2v1h-2zM155 829h1v1h-1zM190 829h2v1h-2zM550 829h1v2h-1zM734 829h1v1h-1zM739 829h1v2h-1zM866 829h1v1h-1zM928 829h1v2h-1zM1268 829h1v1h-1zM1279 829h1v1h-1zM1334 829h2v1h-2zM1338 829h2v1h-2zM1350 829h1v1h-1zM1355 829h1v1h-1zM12 830h1v1h-1zM154 830h1v1h-1zM192 830h1v1h-1zM364 830h1v1h-1zM392 830h2v1h-2zM642 830h1v2h-1zM733 830h1v1h-1zM838 830h1v2h-1zM867 830h1v1h-1zM1075 830h1v3h-1zM1166 830h1v3h-1zM1269 830h1v1h-1zM1278 830h1v1h-1zM1336 830h2v1h-2zM1351 830h1v1h-1zM1354 830h1v2h-1zM1385 830h1v2h-1zM13 831h1v1h-1zM153 831h1v1h-1zM193 831h2v1h-2zM208 831h2v1h-2zM359 831h1v3h-1zM365 831h1v1h-1zM388 831h4v1h-4zM394 831h1v1h-1zM549 831h1v1h-1zM732 831h1v1h-1zM740 831h1v3h-1zM868 831h1v1h-1zM927 831h1v2h-1zM1113 831h5v1h-5zM1270 831h1v1h-1zM1276 831h2v1h-2zM1352 831h1v1h-1zM14 832h1v1h-1zM151 832h2v1h-2zM195 832h3v1h-3zM206 832h2v1h-2zM210 832h2v1h-2zM366 832h1v1h-1zM385 832h3v1h-3zM395 832h1v1h-1zM548 832h1v2h-1zM643 832h1v2h-1zM731 832h1v2h-1zM837 832h1v1h-1zM869 832h1v1h-1zM1111 832h2v1h-2zM1118 832h4v1h-4zM1271 832h1v1h-1zM1275 832h1v1h-1zM1353 832h1v1h-1zM15 833h1v2h-1zM149 833h2v1h-2zM198 833h2v1h-2zM203 833h3v1h-3zM212 833h1v1h-1zM367 833h1v2h-1zM383 833h2v1h-2zM396 833h2v1h-2zM836 833h1v2h-1zM870 833h1v1h-1zM926 833h1v2h-1zM1076 833h1v3h-1zM1110 833h1v1h-1zM1122 833h1v2h-1zM1165 833h1v4h-1zM1272 833h1v1h-1zM1274 833h1v1h-1zM147 834h2v1h-2zM200 834h3v1h-3zM213 834h1v1h-1zM358 834h1v3h-1zM381 834h2v1h-2zM398 834h1v1h-1zM547 834h1v1h-1zM644 834h1v2h-1zM730 834h1v1h-1zM741 834h1v2h-1zM871 834h1v1h-1zM1108 834h2v1h-2zM1273 834h1v1h-1zM16 835h1v1h-1zM121 835h1v1h-1zM145 835h2v1h-2zM214 835h2v1h-2zM368 835h1v1h-1zM379 835h2v1h-2zM399 835h1v1h-1zM546 835h1v2h-1zM729 835h1v1h-1zM835 835h1v2h-1zM872 835h1v1h-1zM925 835h1v3h-1zM1106 835h2v1h-2zM1123 835h1v2h-1zM17 836h1v1h-1zM119 836h2v1h-2zM122 836h1v2h-1zM143 836h2v1h-2zM216 836h1v1h-1zM369 836h10v1h-10zM400 836h1v1h-1zM645 836h1v2h-1zM727 836h2v1h-2zM742 836h1v3h-1zM873 836h2v1h-2zM1077 836h1v2h-1zM1105 836h1v1h-1zM18 837h1v2h-1zM105 837h3v1h-3zM117 837h2v1h-2zM141 837h2v1h-2zM217 837h1v1h-1zM357 837h1v4h-1zM401 837h3v1h-3zM441 837h1v2h-1zM545 837h1v1h-1zM725 837h2v1h-2zM834 837h1v2h-1zM875 837h2v1h-2zM1104 837h1v1h-1zM1124 837h1v2h-1zM1164 837h1v3h-1zM103 838h2v1h-2zM108 838h4v1h-4zM115 838h2v1h-2zM123 838h1v1h-1zM139 838h2v1h-2zM218 838h1v2h-1zM404 838h4v1h-4zM439 838h2v1h-2zM544 838h1v1h-1zM646 838h1v2h-1zM705 838h1v1h-1zM723 838h2v1h-2zM877 838h2v1h-2zM924 838h1v2h-1zM1078 838h1v3h-1zM1103 838h1v1h-1zM19 839h1v1h-1zM102 839h1v1h-1zM112 839h3v1h-3zM124 839h1v2h-1zM137 839h2v1h-2zM257 839h3v1h-3zM408 839h6v1h-6zM437 839h2v1h-2zM442 839h1v2h-1zM543 839h1v2h-1zM703 839h2v1h-2zM706 839h2v1h-2zM721 839h2v1h-2zM743 839h1v2h-1zM832 839h2v1h-2zM879 839h2v1h-2zM897 839h11v1h-11zM1102 839h1v1h-1zM1125 839h1v2h-1zM1145 839h2v1h-2zM20 840h1v2h-1zM72 840h6v1h-6zM100 840h2v1h-2zM136 840h1v1h-1zM219 840h1v2h-1zM256 840h1v1h-1zM260 840h4v1h-4zM414 840h6v1h-6zM435 840h2v1h-2zM647 840h1v2h-1zM701 840h2v1h-2zM708 840h1v1h-1zM719 840h2v1h-2zM830 840h2v1h-2zM881 840h1v1h-1zM896 840h1v1h-1zM908 840h4v1h-4zM923 840h1v2h-1zM1101 840h1v1h-1zM1144 840h1v1h-1zM1147 840h2v1h-2zM1163 840h1v4h-1zM70 841h2v1h-2zM78 841h8v1h-8zM98 841h2v1h-2zM125 841h1v1h-1zM135 841h1v1h-1zM254 841h2v1h-2zM264 841h4v1h-4zM356 841h1v3h-1zM420 841h4v1h-4zM430 841h5v1h-5zM443 841h1v2h-1zM542 841h1v1h-1zM699 841h2v1h-2zM709 841h1v1h-1zM718 841h1v1h-1zM744 841h1v2h-1zM827 841h3v1h-3zM882 841h1v1h-1zM895 841h1v2h-1zM912 841h3v1h-3zM1079 841h1v3h-1zM1100 841h1v1h-1zM1126 841h1v2h-1zM1143 841h1v1h-1zM1149 841h2v1h-2zM21 842h1v1h-1zM49 842h13v1h-13zM67 842h3v1h-3zM86 842h12v1h-12zM126 842h1v2h-1zM134 842h1v1h-1zM220 842h1v2h-1zM253 842h1v1h-1zM268 842h4v1h-4zM424 842h6v1h-6zM529 842h1v1h-1zM541 842h1v1h-1zM648 842h1v2h-1zM697 842h2v1h-2zM710 842h2v1h-2zM716 842h2v1h-2zM760 842h12v1h-12zM825 842h2v1h-2zM883 842h1v1h-1zM915 842h2v1h-2zM922 842h1v2h-1zM1099 842h1v1h-1zM1142 842h1v1h-1zM1151 842h2v1h-2zM22 843h1v2h-1zM48 843h1v1h-1zM62 843h5v1h-5zM133 843h1v1h-1zM252 843h1v1h-1zM272 843h4v1h-4zM444 843h1v2h-1zM527 843h2v1h-2zM530 843h2v1h-2zM540 843h1v1h-1zM696 843h1v2h-1zM712 843h1v1h-1zM714 843h2v1h-2zM745 843h1v2h-1zM758 843h2v1h-2zM772 843h4v1h-4zM824 843h1v2h-1zM884 843h1v1h-1zM894 843h1v1h-1zM917 843h2v1h-2zM1098 843h1v1h-1zM1127 843h1v2h-1zM1140 843h2v1h-2zM1153 843h1v1h-1zM47 844h1v1h-1zM127 844h1v1h-1zM132 844h1v1h-1zM221 844h1v1h-1zM250 844h2v1h-2zM276 844h4v1h-4zM355 844h1v3h-1zM525 844h2v1h-2zM532 844h2v1h-2zM539 844h1v2h-1zM649 844h1v1h-1zM713 844h1v1h-1zM746 844h4v1h-4zM755 844h3v1h-3zM776 844h2v1h-2zM885 844h1v2h-1zM893 844h1v1h-1zM919 844h3v1h-3zM1080 844h1v3h-1zM1096 844h2v1h-2zM1139 844h1v1h-1zM1154 844h2v1h-2zM1162 844h1v4h-1zM23 845h1v1h-1zM46 845h1v1h-1zM128 845h1v2h-1zM131 845h1v1h-1zM222 845h1v2h-1zM249 845h1v2h-1zM280 845h2v1h-2zM302 845h4v1h-4zM445 845h1v2h-1zM523 845h2v1h-2zM534 845h1v1h-1zM650 845h2v1h-2zM665 845h1v1h-1zM695 845h1v2h-1zM750 845h5v1h-5zM777 845h1v1h-1zM823 845h1v2h-1zM892 845h1v1h-1zM921 845h1v1h-1zM1092 845h4v1h-4zM1128 845h1v2h-1zM1138 845h1v1h-1zM1156 845h1v1h-1zM24 846h1v2h-1zM45 846h1v2h-1zM130 846h1v1h-1zM282 846h2v1h-2zM297 846h5v1h-5zM305 846h1v1h-1zM521 846h2v1h-2zM535 846h2v1h-2zM538 846h1v1h-1zM652 846h1v1h-1zM663 846h2v1h-2zM666 846h1v1h-1zM778 846h1v2h-1zM886 846h1v1h-1zM891 846h1v2h-1zM1088 846h4v1h-4zM1134 846h4v1h-4zM1157 846h1v1h-1zM30 847h5v1h-5zM129 847h1v1h-1zM223 847h1v2h-1zM248 847h1v3h-1zM284 847h1v1h-1zM295 847h2v1h-2zM306 847h1v2h-1zM354 847h1v3h-1zM446 847h1v2h-1zM520 847h1v1h-1zM537 847h1v1h-1zM653 847h1v1h-1zM662 847h1v1h-1zM667 847h1v1h-1zM694 847h1v2h-1zM822 847h1v2h-1zM887 847h1v1h-1zM1081 847h1v2h-1zM1084 847h4v1h-4zM1129 847h5v1h-5zM1158 847h2v1h-2zM25 848h5v1h-5zM35 848h2v1h-2zM44 848h1v1h-1zM285 848h1v1h-1zM294 848h1v1h-1zM473 848h1v1h-1zM519 848h1v2h-1zM654 848h2v1h-2zM660 848h2v1h-2zM668 848h1v1h-1zM779 848h1v2h-1zM888 848h1v1h-1zM890 848h1v1h-1zM1082 848h2v1h-2zM1160 848h2v1h-2zM37 849h2v1h-2zM43 849h1v1h-1zM224 849h1v2h-1zM286 849h2v1h-2zM292 849h2v1h-2zM307 849h1v2h-1zM447 849h1v2h-1zM472 849h1v1h-1zM474 849h1v1h-1zM656 849h1v1h-1zM658 849h2v1h-2zM669 849h1v1h-1zM693 849h1v2h-1zM821 849h1v2h-1zM889 849h1v1h-1zM1161 849h1v1h-1zM39 850h2v1h-2zM42 850h1v1h-1zM247 850h1v3h-1zM288 850h1v1h-1zM290 850h2v1h-2zM353 850h1v2h-1zM471 850h1v1h-1zM475 850h1v1h-1zM518 850h1v1h-1zM657 850h1v1h-1zM670 850h1v1h-1zM780 850h1v2h-1zM41 851h1v1h-1zM225 851h3v1h-3zM289 851h1v1h-1zM308 851h1v2h-1zM448 851h1v2h-1zM470 851h1v1h-1zM476 851h1v1h-1zM517 851h1v1h-1zM671 851h1v1h-1zM692 851h1v2h-1zM820 851h1v2h-1zM228 852h4v1h-4zM352 852h1v1h-1zM469 852h1v1h-1zM477 852h1v1h-1zM516 852h1v1h-1zM672 852h1v1h-1zM781 852h1v2h-1zM232 853h2v1h-2zM246 853h1v3h-1zM309 853h1v2h-1zM351 853h1v1h-1zM449 853h1v2h-1zM468 853h1v1h-1zM478 853h1v1h-1zM488 853h2v1h-2zM515 853h1v2h-1zM673 853h10v1h-10zM691 853h1v2h-1zM819 853h1v2h-1zM234 854h1v2h-1zM350 854h1v1h-1zM467 854h1v1h-1zM479 854h1v1h-1zM486 854h2v1h-2zM490 854h2v1h-2zM505 854h3v1h-3zM683 854h2v1h-2zM782 854h1v2h-1zM310 855h1v2h-1zM329 855h1v1h-1zM349 855h1v2h-1zM450 855h2v1h-2zM466 855h1v1h-1zM480 855h1v1h-1zM483 855h3v1h-3zM492 855h2v1h-2zM503 855h2v1h-2zM508 855h4v1h-4zM514 855h1v1h-1zM685 855h2v1h-2zM690 855h1v2h-1zM809 855h3v1h-3zM818 855h1v2h-1zM235 856h1v2h-1zM245 856h1v2h-1zM328 856h1v1h-1zM330 856h1v1h-1zM452 856h1v1h-1zM465 856h1v1h-1zM481 856h2v1h-2zM494 856h1v1h-1zM501 856h2v1h-2zM512 856h2v1h-2zM687 856h2v1h-2zM783 856h1v2h-1zM809 856h1v1h-1zM812 856h4v1h-4zM311 857h1v2h-1zM327 857h1v1h-1zM331 857h1v1h-1zM348 857h1v1h-1zM453 857h1v1h-1zM463 857h2v1h-2zM495 857h2v1h-2zM499 857h2v1h-2zM689 857h1v1h-1zM808 857h1v2h-1zM816 857h2v1h-2zM236 858h1v2h-1zM244 858h1v3h-1zM326 858h1v1h-1zM332 858h1v1h-1zM347 858h1v1h-1zM454 858h2v1h-2zM461 858h2v1h-2zM497 858h2v1h-2zM784 858h1v2h-1zM312 859h1v2h-1zM325 859h1v2h-1zM333 859h1v1h-1zM346 859h1v1h-1zM456 859h1v1h-1zM459 859h2v1h-2zM807 859h1v2h-1zM237 860h1v2h-1zM334 860h1v1h-1zM344 860h2v1h-2zM457 860h2v1h-2zM785 860h1v2h-1zM243 861h1v3h-1zM313 861h2v1h-2zM324 861h1v1h-1zM335 861h1v1h-1zM342 861h2v1h-2zM806 861h1v2h-1zM238 862h1v2h-1zM315 862h3v1h-3zM323 862h1v1h-1zM336 862h1v1h-1zM339 862h3v1h-3zM786 862h1v1h-1zM318 863h2v1h-2zM322 863h1v1h-1zM337 863h2v1h-2zM787 863h1v1h-1zM805 863h1v2h-1zM239 864h1v2h-1zM242 864h1v3h-1zM320 864h2v1h-2zM788 864h1v1h-1zM789 865h1v2h-1zM804 865h1v2h-1zM240 866h1v2h-1zM241 867h1v2h-1zM790 867h1v1h-1zM803 867h1v2h-1zM791 868h1v1h-1zM792 869h1v1h-1zM802 869h1v2h-1zM793 870h3v1h-3zM796 871h4v1h-4zM801 871h1v2h-1zM800 872h1v1h-1z" fill="#1e90ff"/></g><text x="-2" y="767" font-size="10" fill="#000" textLength="67" lengthAdjust="spacingAndGlyphs">RSI(14) 55.9316</text><g font-size="10" fill="#000"><text x="-7.5" y="941" textLength="50" lengthAdjust="spacingAndGlyphs">30 Oct 2019</text><text x="56.3" y="941" textLength="51.1" lengthAdjust="spacingAndGlyphs">1 Nov 04:00</text><text x="120.3" y="941" textLength="51.1" lengthAdjust="spacingAndGlyphs">4 Nov 12:00</text><text x="184.3" y="941" textLength="51.1" lengthAdjust="spacingAndGlyphs">5 Nov 20:00</text><text x="248.3" y="941" textLength="51.1" lengthAdjust="spacingAndGlyphs">7 Nov 04:00</text><text x="312.3" y="941" textLength="51.1" lengthAdjust="spacingAndGlyphs">8 Nov 12:00</text><text x="376.3" y="941" textLength="56" lengthAdjust="spacingAndGlyphs">11 Nov 20:00</text><text x="440.3" y="941" textLength="56" lengthAdjust="spacingAndGlyphs">13 Nov 04:00</text><text x="504.3" y="941" textLength="56" lengthAdjust="spacingAndGlyphs">14 Nov 12:00</text><text x="568.3" y="941" textLength="56" lengthAdjust="spacingAndGlyphs">17 Nov 23:00</text><text x="632.3" y="941" textLength="56" lengthAdjust="spacingAndGlyphs">19 Nov 04:00</text><text x="696.3" y="941" textLength="56" lengthAdjust="spacingAndGlyphs">20 Nov 12:00</text><text x="760.3" y="941" textLength="56" lengthAdjust="spacingAndGlyphs">21 Nov 20:00</text><text x="824.3" y="941" textLength="56" lengthAdjust="spacingAndGlyphs">25 Nov 04:00</text><text x="888.3" y="941" textLength="56" lengthAdjust="spacingAndGlyphs">26 Nov 12:00</text><text x="952.3" y="941" textLength="56" lengthAdjust="spacingAndGlyphs">27 Nov 20:00</text><text x="1016.3" y="941" textLength="56" lengthAdjust="spacingAndGlyphs">29 Nov 04:00</text><text x="1080.3" y="941" textLength="51.1" lengthAdjust="spacingAndGlyphs">2 Dec 12:00</text><text x="1144.3" y="941" textLength="51.1" lengthAdjust="spacingAndGlyphs">3 Dec 20:00</text><text x="1208.3" y="941" textLength="51.1" lengthAdjust="spacingAndGlyphs">5 Dec 04:00</text><text x="1272.3" y="941" textLength="51.1" lengthAdjust="spacingAndGlyphs">6 Dec 12:00</text><text x="1336.3" y="941" textLength="51.1" lengthAdjust="spacingAndGlyphs">9 Dec 20:00</text></g><path d="M0 38v-3.2l3.2 3.2z" fill="#000"/><text x="8.4" y="39" font-size="10" fill="#000" textLength="52.4" lengthAdjust="spacingAndGlyphs">GBPJPY-,H4</text><text x="67.7" y="39" font-size="10" fill="#000" textLength="140.2" lengthAdjust="spacingAndGlyphs">143.540 143.569 142.974 142.974</text><defs><linearGradient id="gold" x1="0" y1="0" x2="1" y2="1"><stop offset="0" stop-color="#fbe28a"/><stop offset=".5" stop-color="#e8b428"/><stop offset="1" stop-color="#b47a14"/></linearGradient><linearGradient id="blu" x1="0" y1="0" x2="0" y2="1"><stop offset="0" stop-color="#6ab4ff"/><stop offset="1" stop-color="#1470e0"/></linearGradient><linearGradient id="cld" x1="0" y1="0" x2="0" y2="1"><stop offset="0" stop-color="#fff"/><stop offset="1" stop-color="#b8c8e8"/></linearGradient><linearGradient id="grn" x1="0" y1="0" x2="1" y2="0"><stop offset="0" stop-color="#20b020"/><stop offset=".5" stop-color="#70f070"/><stop offset="1" stop-color="#20b020"/></linearGradient><radialGradient id="sig" cx=".5" cy=".5" r=".5"><stop offset="0" stop-color="#e8f4e0"/><stop offset="1" stop-color="#78b070"/></radialGradient><linearGradient id="bub" x1="0" y1="0" x2="0" y2="1"><stop offset="0" stop-color="#fff"/><stop offset=".5" stop-color="#fafafa"/><stop offset="1" stop-color="#d4d4dc"/></linearGradient></defs><g><text x="1.5" y="14.5" font-size="12" fill="#000" textLength="36" lengthAdjust="spacingAndGlyphs" style="font-family:'Liberation Sans','Noto Sans CJK SC',sans-serif">新订单</text><text x="155" y="14.5" font-size="12" fill="#000" textLength="46" lengthAdjust="spacingAndGlyphs" style="font-family:'Liberation Sans','Noto Sans CJK SC',sans-serif">自动交易</text><path d="M55.6 4L65.7 11.6L58 18.8L50.1 13.4z" fill="url(#gold)" stroke="#a86c10" stroke-width=".8"/><path d="M50.5 14.2L57.9 19.3L65.6 12.4" fill="none" stroke="#8c5a0c" stroke-width="1"/><path d="M80.5 4l3-1.5h7.5v9h-10.5z" fill="url(#blu)" stroke="#1060d0" stroke-width=".6"/><rect x="85" y="6" width="5" height="1.6" fill="#d8ecff"/><rect x="85" y="8.6" width="5" height="1.2" fill="#d8ecff"/><path d="M81 18.6a2.8 2.8 0 0 1 -.3 -5.5a3 3 0 0 1 4.6 -1.6a3.4 3.4 0 0 1 5.6 1.5a2.9 2.9 0 0 1 .3 5.6z" fill="url(#cld)" stroke="#6484c4" stroke-width=".9"/><path d="M113.8 3.2a7.6 7.6 0 0 1 0 15.2z" fill="url(#sig)"/><circle cx="113.8" cy="10.8" r="7.2" fill="none" stroke="#7a9adc" stroke-width=".9" stroke-dasharray="17 5.6" stroke-dashoffset="-6" opacity=".8"/><circle cx="113.8" cy="10.8" r="4.6" fill="none" stroke="#5a82d8" stroke-width="1"/><circle cx="113.8" cy="10.8" r="2.1" fill="#2a5ad8"/><path d="M113.9 11v7.4" stroke="#18a018" stroke-width="1.3"/><path d="M114.5 18.3a7.5 7.5 0 0 0 6.8 -6" fill="none" stroke="#58a858" stroke-width="1.2"/><path d="M134 9.6L148.6 9.6L141.3 18.4z" fill="#f4d860" stroke="#c8a020" stroke-width=".6"/><ellipse cx="141.1" cy="7.6" rx="7.8" ry="2.6" fill="#4c9ede" stroke="#2a78c0" stroke-width=".6"/><path d="M136.8 7a4.3 4 0 0 1 8.6 0z" fill="#78bcf0" stroke="#2a78c0" stroke-width=".5"/><circle cx="145.3" cy="14.8" r="4" fill="#e01808"/><rect x="143.6" y="13.1" width="3.4" height="3.4" fill="#fff"/><rect x="209" y="1" width="1" height="21" fill="#a0a0a0"/><rect x="213" y="1" width="3" height="1" fill="#a8a8a8"/><rect x="213" y="3" width="3" height="1" fill="#a8a8a8"/><rect x="213" y="5" width="3" height="1" fill="#a8a8a8"/><rect x="213" y="7" width="3" height="1" fill="#a8a8a8"/><rect x="213" y="9" width="3" height="1" fill="#a8a8a8"/><rect x="213" y="11" width="3" height="1" fill="#a8a8a8"/><rect x="213" y="13" width="3" height="1" fill="#a8a8a8"/><rect x="213" y="15" width="3" height="1" fill="#a8a8a8"/><rect x="213" y="17" width="3" height="1" fill="#a8a8a8"/><rect x="213" y="19" width="3" height="1" fill="#a8a8a8"/><path d="M227.4 19V5.5M225 16.5H237.5" stroke="#505050" stroke-width="1.1" fill="none"/><path d="M227.4 4l2.2 3h-4.4zM239.2 16.5l-3 -2.2v4.4z" fill="#505050"/><path d="M233.8 6.2V14.6M233.8 7.4h2.4M231.4 13.4h2.4" stroke="#109010" stroke-width="1.1" fill="none"/><rect x="247" y="1" width="1" height="21" fill="#a0a0a0"/><rect x="248" y="0" width="24" height="21" fill="#f8f8f8"/><path d="M255.4 19V5.5M253 16.5H265.5" stroke="#505050" stroke-width="1.1" fill="none"/><path d="M255.4 4l2.2 3h-4.4zM267.2 16.5l-3 -2.2v4.4z" fill="#505050"/><path d="M261.6 3.3V14.8" stroke="#108010" stroke-width="1.1"/><rect x="259.4" y="5.6" width="4.6" height="7" fill="url(#grn)" stroke="#108010" stroke-width=".9"/><path d="M283.4 19V5.5M281 16.5H293.5" stroke="#505050" stroke-width="1.1" fill="none"/><path d="M283.4 4l2.2 3h-4.4zM295.2 16.5l-3 -2.2v4.4z" fill="#505050"/><path d="M282 13.8Q286 7.6 288.3 8.1T293.6 12.3" stroke="#2c9a2c" stroke-width="1.2" fill="none"/><rect x="304" y="1" width="1" height="21" fill="#a0a0a0"/><path d="M323.0 13.6l5 4.4" stroke="#a88010" stroke-width="3.4" stroke-linecap="round"/><path d="M323.0 13.6l5 4.4" stroke="#ecc838" stroke-width="2" stroke-linecap="round"/><circle cx="319.1" cy="9" r="5.6" fill="#d6eafa" stroke="#3484d4" stroke-width="1.3"/><path d="M315.90000000000003 9h6.4" stroke="#3478b8" stroke-width="1.7"/><path d="M319.1 5.8v6.4" stroke="#3478b8" stroke-width="1.7"/><path d="M351.09999999999997 13.6l5 4.4" stroke="#a88010" stroke-width="3.4" stroke-linecap="round"/><path d="M351.09999999999997 13.6l5 4.4" stroke="#ecc838" stroke-width="2" stroke-linecap="round"/><circle cx="347.2" cy="9" r="5.6" fill="#d6eafa" stroke="#3484d4" stroke-width="1.3"/><path d="M344.0 9h6.4" stroke="#3478b8" stroke-width="1.7"/><rect x="369.2" y="3" width="7.8" height="7.9" fill="#3c9c1c"/><rect x="370.3" y="6" width="5.6" height="4" fill="#fff"/><rect x="371.3" y="7.2" width="3.6" height="1" fill="#a8d890"/><rect x="377.2" y="3" width="7.8" height="7.9" fill="#2458cc"/><rect x="378.3" y="6" width="5.6" height="4" fill="#fff"/><rect x="379.3" y="7.2" width="3.6" height="1" fill="#a0b8f0"/><rect x="369.2" y="11.1" width="7.8" height="7.9" fill="#2458cc"/><rect x="370.3" y="14.1" width="5.6" height="4" fill="#fff"/><rect x="371.3" y="15.3" width="3.6" height="1" fill="#a0b8f0"/><rect x="377.2" y="11.1" width="7.8" height="7.9" fill="#3c9c1c"/><rect x="378.3" y="14.1" width="5.6" height="4" fill="#fff"/><rect x="379.3" y="15.3" width="3.6" height="1" fill="#a8d890"/><rect x="394" y="1" width="1" height="21" fill="#a0a0a0"/><rect x="399" y="1" width="1" height="21" fill="#a0a0a0"/><rect x="400" y="0" width="24" height="21" fill="#f8f8f8"/><path d="M407.4 19V5.5M405 16.5H417.5" stroke="#505050" stroke-width="1.1" fill="none"/><path d="M407.4 4l2.2 3h-4.4zM419.2 16.5l-3 -2.2v4.4z" fill="#505050"/><path d="M412 7.2v6.6l4.2-3.3z" fill="#30c030" stroke="#109010" stroke-width=".7"/><rect x="427" y="1" width="1" height="21" fill="#a0a0a0"/><rect x="428" y="0" width="24" height="21" fill="#f8f8f8"/><path d="M435.4 19V5.5M433 16.5H445.5" stroke="#505050" stroke-width="1.1" fill="none"/><path d="M435.4 4l2.2 3h-4.4zM447.2 16.5l-3 -2.2v4.4z" fill="#505050"/><path d="M441.3 5v9.8" stroke="#1868b8" stroke-width="1.3"/><path d="M442.3 10.5l3.2-2.4v1.7h1.6v1.4h-1.6v1.7z" fill="#e04808"/><rect x="456" y="1" width="1" height="21" fill="#a0a0a0"/><path d="M466.5 3.5h8l3.4 3.2v9.8h-11.4z" fill="#f4f4f4" stroke="#9a9a9a" stroke-width=".9"/><path d="M474.5 3.5v3.2h3.4" fill="#fff" stroke="#9a9a9a" stroke-width=".7"/><path d="M472.5 6c-2 0-2.6 .8-2.6 2.4v5c0 1 .6 1.5 1.6 1.5" fill="none" stroke="#505050" stroke-width="1"/><path d="M469.9 10h2.4" stroke="#505050" stroke-width="1"/><path d="M474.3 9.4h3.4v4.1h4.1v3.4h-4.1v4.1h-3.4v-4.1h-4.1v-3.4h4.1z" fill="#24d424" stroke="#0c8c0c" stroke-width=".8"/><path d="M487.8 10h5.4l-2.7 3z" fill="#000"/><circle cx="511.9" cy="10.9" r="6.4" fill="#f4f8ff" stroke="#1464c4" stroke-width="3"/><circle cx="511.9" cy="10.9" r="8.1" fill="none" stroke="#0c4898" stroke-width=".5"/><path d="M511.9 7v4.2h3" fill="none" stroke="#303030" stroke-width="1.1"/><path d="M526.8 10h5.4l-2.7 3z" fill="#000"/><rect x="543" y="4" width="16" height="13.7" rx="1" fill="#3878d0"/><rect x="543.8" y="4.6" width="14.4" height="1.6" fill="#9cc8f4"/><rect x="544.2" y="7" width="13.6" height="5.2" fill="#fff"/><rect x="544.2" y="13.1" width="13.6" height="3.6" fill="#fff"/><path d="M545 10.4h1.8l1.4-1h1.6l1.4-1h1.6l1.4 1h1.6l1.4-1h1" fill="none" stroke="#a83010" stroke-width="1.1"/><path d="M546 15.6h1.6l1.4-1h1.6l1.4 1l2-2.2l1.4 1l1.6 1.6" fill="none" stroke="#18a028" stroke-width="1.1"/><path d="M565.7 10h5.4l-2.7 3z" fill="#000"/><rect x="577" y="1" width="1" height="21" fill="#a0a0a0"/><rect x="581" y="1" width="3" height="1" fill="#a8a8a8"/><rect x="581" y="3" width="3" height="1" fill="#a8a8a8"/><rect x="581" y="5" width="3" height="1" fill="#a8a8a8"/><rect x="581" y="7" width="3" height="1" fill="#a8a8a8"/><rect x="581" y="9" width="3" height="1" fill="#a8a8a8"/><rect x="581" y="11" width="3" height="1" fill="#a8a8a8"/><rect x="581" y="13" width="3" height="1" fill="#a8a8a8"/><rect x="581" y="15" width="3" height="1" fill="#a8a8a8"/><rect x="581" y="17" width="3" height="1" fill="#a8a8a8"/><rect x="581" y="19" width="3" height="1" fill="#a8a8a8"/><rect x="587" y="1" width="1" height="21" fill="#a0a0a0"/><rect x="588" y="0" width="24" height="21" fill="#f8f8f8"/><path d="M595 4v11l2.7-2.4l2.7 5.6l1.6-.8l-2.7-5.4l3.7-.3z" fill="#505050"/><path d="M627.4 4v6M627.4 12.8v6M620 11.4h6M628.8 11.4h6.4" stroke="#505050" stroke-width="1.2" fill="none"/><rect x="644" y="1" width="1" height="21" fill="#a0a0a0"/><path d="M661.4 5v12.7M684 11.4h12M711.8 17.7L723.8 5.8" stroke="#505050" stroke-width="1.3" fill="none"/><path d="M737.9 12.7L745.5 5.4M743 17.7L752 9M740 16.5L747.5 9.2" stroke="#505050" stroke-width="1" fill="none"/><path d="M740.5 10.5l1.5 5l1.5-7.5l1.5 5.5l1.5-7.5l1.5 5.5l1.5-7.5l.8 5" stroke="#505050" stroke-width=".8" fill="none"/><text x="748.8" y="19.6" font-size="6.5" font-weight="bold" fill="#404040">E</text><path d="M767.2 4.2H780.3" stroke="#505050" stroke-width="1" stroke-dasharray="1,1" fill="none"/><path d="M767.2 7.4H780.3" stroke="#505050" stroke-width="1" stroke-dasharray="1,1" fill="none"/><path d="M767.2 11.4H780.3" stroke="#505050" stroke-width="1" stroke-dasharray="1,1" fill="none"/><path d="M767.2 15.4H776.5" stroke="#505050" stroke-width="1" stroke-dasharray="1,1" fill="none"/><text x="776.6" y="19.8" font-size="6.5" font-weight="bold" fill="#404040">F</text><text x="797.2" y="15.7" font-size="12.5" fill="#484848" stroke="#484848" stroke-width=".3" textLength="8.6" lengthAdjust="spacingAndGlyphs">A</text><rect x="824.4" y="5.4" width="11" height="12.2" fill="none" stroke="#505050" stroke-width="1" stroke-dasharray="1,1"/><text x="826" y="15.7" font-size="11" fill="#484848" stroke="#484848" stroke-width=".4" textLength="8" lengthAdjust="spacingAndGlyphs">T</text><path d="M854.5 4.8l3 2.7l-3 2.2l-3-2.2zM861.7 17.6l3-2.7l-3-2.2l-3 2.2z" fill="#505050"/><path d="M853.5 11.5l2.5 2.5l5-5.5" stroke="#505050" stroke-width="1.4" fill="none"/><path d="M871.8 10h5.4l-2.7 3z" fill="#000"/><rect x="883" y="1" width="1" height="21" fill="#a0a0a0"/><rect x="887" y="1" width="3" height="1" fill="#a8a8a8"/><rect x="887" y="3" width="3" height="1" fill="#a8a8a8"/><rect x="887" y="5" width="3" height="1" fill="#a8a8a8"/><rect x="887" y="7" width="3" height="1" fill="#a8a8a8"/><rect x="887" y="9" width="3" height="1" fill="#a8a8a8"/><rect x="887" y="11" width="3" height="1" fill="#a8a8a8"/><rect x="887" y="13" width="3" height="1" fill="#a8a8a8"/><rect x="887" y="15" width="3" height="1" fill="#a8a8a8"/><rect x="887" y="17" width="3" height="1" fill="#a8a8a8"/><rect x="887" y="19" width="3" height="1" fill="#a8a8a8"/><text x="898.5" y="15.4" font-size="10" fill="#505050" textLength="12.5" lengthAdjust="spacingAndGlyphs">M1</text><text x="926.4" y="15.4" font-size="10" fill="#505050" textLength="12.7" lengthAdjust="spacingAndGlyphs">M5</text><text x="952.4" y="15.4" font-size="10" fill="#505050" textLength="17.5" lengthAdjust="spacingAndGlyphs">M15</text><text x="980.5" y="15.4" font-size="10" fill="#505050" textLength="17.7" lengthAdjust="spacingAndGlyphs">M30</text><text x="1011.5" y="15.4" font-size="10" fill="#505050" textLength="11.7" lengthAdjust="spacingAndGlyphs">H1</text><rect x="1033" y="1" width="1" height="21" fill="#a0a0a0"/><rect x="1034" y="0" width="25" height="21" fill="#f8f8f8"/><text x="1038.5" y="15.4" font-size="10" fill="#505050" textLength="12.3" lengthAdjust="spacingAndGlyphs">H4</text><text x="1067.6" y="15.4" font-size="10" fill="#505050" textLength="11.3" lengthAdjust="spacingAndGlyphs">D1</text><text x="1094.9" y="15.4" font-size="10" fill="#505050" textLength="14.3" lengthAdjust="spacingAndGlyphs">W1</text><text x="1121.5" y="15.4" font-size="10" fill="#505050" textLength="14.8" lengthAdjust="spacingAndGlyphs">MN</text><rect x="1144" y="1" width="1" height="21" fill="#a0a0a0"/><path d="M1612 11.2l-5.2 4.7" stroke="#1c5cdc" stroke-width="2.6" stroke-linecap="round"/><circle cx="1614.6" cy="8.3" r="3.9" fill="#f4f4f8" stroke="#2c6ce4" stroke-width="1.3"/><path d="M1647 3.2c4 0 7 2.2 7 5c0 2.3-1.9 4.2-4.5 4.8l1.5 2.2l-3.5-2c-4.2 0-7.2-2.2-7.2-5s3-5 6.7-5z" fill="url(#bub)" stroke="#a0a0a4" stroke-width=".9"/><path d="M1638.2 8.4c3 0 5.3 1.7 5.3 3.9s-2.3 3.9-5.3 3.9l-2.7 1.6l1-2.1c-2-.6-3.3-1.9-3.3-3.4c0-2.2 2.2-3.9 5-3.9z" fill="url(#bub)" stroke="#a0a0a4" stroke-width=".9"/></g></svg>
<div class="tp">
 <div class="bs" style="left:0;width:47px"><span style="left:8.6px;width:25px">SELL</span></div>
 <div class="bs" style="left:164px;width:51px"><span style="left:12.8px;width:22.6px">BUY</span></div>
 <div class="lot"><div class="sp" style="left:1px"><i class="dn"></i></div><div class="sp" style="right:1px"><i class="up"></i></div><span>1.00</span></div>
 <div class="pr" style="left:0;width:105px"><b style="left:19.5px">142</b><em style="left:43.5px">97</em><sup style="left:83px">4</sup></div>
 <div class="pr" style="left:107px;width:108px"><b style="left:22.5px">143</b><em style="left:48.5px">12</em><sup style="left:87.5px">0</sup></div>
</div>
</body></html>
